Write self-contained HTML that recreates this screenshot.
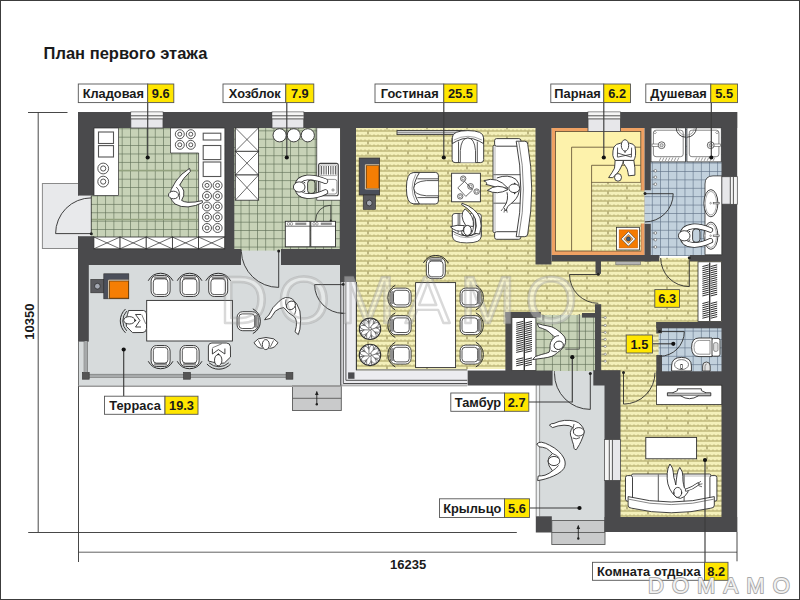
<!DOCTYPE html>
<html><head><meta charset="utf-8"><title>План первого этажа</title>
<style>html,body{margin:0;padding:0;background:#fff}body{width:800px;height:600px;overflow:hidden}
svg{display:block;font-family:"Liberation Sans",sans-serif;font-weight:bold}</style></head>
<body><svg width="800" height="600" viewBox="0 0 800 600">
<defs>
<pattern id="gt" x="121.7" y="128.3" width="8.27" height="8.4" patternUnits="userSpaceOnUse">
<rect width="8.27" height="8.4" fill="#c7d2b7"/><path d="M0 .4H8.27M.4 0V8.4" stroke="#5d6b53" stroke-width=".65" fill="none"/></pattern>
<pattern id="gt2" x="257.0" y="130.4" width="8.25" height="8.3" patternUnits="userSpaceOnUse">
<rect width="8.25" height="8.3" fill="#c7d2b7"/><path d="M0 .4H8.25M.4 0V8.3" stroke="#5d6b53" stroke-width=".65" fill="none"/></pattern>
<pattern id="gt3" x="535.4" y="314.1" width="8.25" height="8.3" patternUnits="userSpaceOnUse">
<rect width="8.25" height="8.3" fill="#c7d2b7"/><path d="M0 .4H8.25M.4 0V8.3" stroke="#5d6b53" stroke-width=".65" fill="none"/></pattern>
<pattern id="bt" x="660" y="162.6" width="8.17" height="8.4" patternUnits="userSpaceOnUse">
<rect width="8.17" height="8.4" fill="#c2d1dd"/><path d="M0 .4H8.17M.4 0V8.4" stroke="#5f7186" stroke-width=".65" fill="none"/></pattern>
<pattern id="wd" x="356" y="128" width="40" height="10" patternUnits="userSpaceOnUse">
<rect width="40" height="10" fill="#f4f0ba"/>
<path d="M0 3H40M0 8H40" stroke="#a69e5c" stroke-width="1.05" fill="none"/>
<path d="M0 2.1H40M1 7.1H40" stroke="#bbb478" stroke-width="0.8" stroke-dasharray="2 2" fill="none"/>
<path d="M12 3.6V6.6M31 8.6V10M31 0V1.6" stroke="#8f8750" stroke-width="1.1" fill="none"/></pattern>
</defs>
<rect x="0" y="0" width="800" height="600" fill="#fff"/>
<rect x="42.40" y="183.50" width="36.10" height="65.00" fill="#e8e9eb" stroke="#8a8a8a" stroke-width="1" />
<rect x="77.50" y="195.60" width="13.80" height="40.60" fill="#e8e9eb" />
<rect x="91.00" y="128.00" width="134.00" height="121.00" fill="url(#gt)" />
<line x1="91.30" y1="170.50" x2="198.60" y2="170.50" stroke="#93a27f" stroke-width="1.3" />
<line x1="91.30" y1="219.50" x2="198.60" y2="219.50" stroke="#93a27f" stroke-width="1.3" />
<rect x="234.00" y="128.00" width="106.00" height="123.00" fill="url(#gt2)" />
<rect x="78.00" y="265.00" width="263.50" height="121.30" fill="#d7dbdc" />
<rect x="241.00" y="250.60" width="40.00" height="15.40" fill="#d7dbdc" />
<rect x="292.50" y="386.00" width="48.80" height="24.50" fill="#c9cacb" stroke="#5a5a5a" stroke-width="0.9" />
<line x1="292.50" y1="398.30" x2="341.30" y2="398.30" stroke="#5a5a5a" stroke-width="0.9" />
<rect x="356.00" y="128.00" width="180.00" height="241.00" fill="url(#wd)" />
<rect x="536.00" y="261.00" width="186.00" height="110.00" fill="url(#wd)" />
<rect x="601.00" y="300.00" width="56.00" height="86.00" fill="url(#wd)" />
<rect x="620.00" y="371.00" width="102.00" height="146.50" fill="url(#wd)" />
<rect x="551.50" y="128.00" width="93.00" height="127.00" fill="#efa163" />
<rect x="555.50" y="131.50" width="85.30" height="119.50" fill="#fdf2ab" stroke="#5a4a30" stroke-width="0.8" />
<rect x="591.50" y="182.50" width="49.30" height="68.50" fill="url(#wd)" />
<rect x="640.00" y="190.50" width="4.60" height="33.00" fill="url(#wd)" />
<rect x="650.50" y="128.00" width="71.50" height="128.00" fill="url(#bt)" />
<rect x="661.00" y="328.00" width="61.00" height="44.00" fill="url(#bt)" />
<rect x="535.50" y="315.00" width="60.00" height="56.00" fill="url(#gt3)" />
<rect x="536.00" y="371.00" width="69.00" height="149.50" fill="#d7dbdc" />
<rect x="536.00" y="385.00" width="3.60" height="131.50" fill="#eceeef" />
<line x1="536.20" y1="385.00" x2="536.20" y2="516.50" stroke="#808080" stroke-width="0.9" />
<line x1="539.60" y1="385.00" x2="539.60" y2="516.50" stroke="#808080" stroke-width="0.8" />
<rect x="551.80" y="520.50" width="53.20" height="24.00" fill="#c9cacb" stroke="#5a5a5a" stroke-width="0.9" />
<line x1="551.80" y1="532.50" x2="605.00" y2="532.50" stroke="#5a5a5a" stroke-width="0.9" />
<rect x="78.00" y="112.00" width="659.20" height="16.00" fill="#4a4a4c" />
<rect x="78.00" y="112.00" width="16.00" height="83.60" fill="#4a4a4c" />
<rect x="78.00" y="236.20" width="16.00" height="28.80" fill="#4a4a4c" />
<rect x="78.00" y="249.00" width="163.00" height="16.00" fill="#4a4a4c" />
<rect x="281.00" y="249.00" width="75.00" height="16.00" fill="#4a4a4c" />
<rect x="78.00" y="265.00" width="10.80" height="76.60" fill="#4a4a4c" />
<rect x="225.00" y="128.00" width="9.30" height="121.00" fill="#4a4a4c" />
<rect x="340.00" y="128.00" width="16.00" height="154.00" fill="#4a4a4c" />
<rect x="535.50" y="128.00" width="16.00" height="136.50" fill="#4a4a4c" />
<rect x="551.50" y="255.00" width="108.00" height="6.40" fill="#4a4a4c" />
<rect x="644.50" y="128.00" width="6.30" height="62.50" fill="#4a4a4c" />
<rect x="644.50" y="223.50" width="6.30" height="37.90" fill="#4a4a4c" />
<rect x="690.00" y="255.00" width="32.00" height="6.40" fill="#4a4a4c" />
<rect x="721.50" y="112.00" width="15.70" height="420.00" fill="#4a4a4c" />
<rect x="595.50" y="261.00" width="5.50" height="12.80" fill="#4a4a4c" />
<rect x="595.00" y="304.20" width="6.20" height="66.80" fill="#4a4a4c" />
<rect x="505.40" y="312.00" width="35.40" height="5.60" fill="#4a4a4c" />
<rect x="582.00" y="313.00" width="19.00" height="4.60" fill="#4a4a4c" />
<rect x="505.40" y="312.00" width="6.50" height="59.00" fill="#4a4a4c" />
<rect x="467.50" y="370.50" width="85.10" height="15.00" fill="#4a4a4c" />
<rect x="593.30" y="370.20" width="27.20" height="15.30" fill="#4a4a4c" />
<rect x="604.50" y="384.00" width="16.00" height="55.80" fill="#4a4a4c" />
<rect x="604.50" y="480.20" width="16.00" height="51.80" fill="#4a4a4c" />
<rect x="604.50" y="517.00" width="132.70" height="15.00" fill="#4a4a4c" />
<rect x="656.30" y="322.00" width="65.70" height="6.30" fill="#4a4a4c" />
<rect x="656.30" y="322.00" width="5.70" height="11.50" fill="#4a4a4c" />
<rect x="656.30" y="355.00" width="5.70" height="30.00" fill="#4a4a4c" />
<rect x="656.30" y="371.30" width="65.70" height="13.70" fill="#4a4a4c" />
<rect x="535.80" y="516.30" width="16.00" height="16.20" fill="#4a4a4c" />
<rect x="130.80" y="112.00" width="32.20" height="16.00" fill="#e7e7ea" stroke="#444" stroke-width="0.8" />
<rect x="131.20" y="112.40" width="31.40" height="6.40" fill="#f5f5f5" />
<line x1="130.80" y1="115.80" x2="163.00" y2="115.80" stroke="#444" stroke-width="0.9" />
<line x1="130.80" y1="118.90" x2="163.00" y2="118.90" stroke="#444" stroke-width="0.9" />
<rect x="272.00" y="112.00" width="31.80" height="16.00" fill="#e7e7ea" stroke="#444" stroke-width="0.8" />
<rect x="272.40" y="112.40" width="31.00" height="6.40" fill="#f5f5f5" />
<line x1="272.00" y1="115.80" x2="303.80" y2="115.80" stroke="#444" stroke-width="0.9" />
<line x1="272.00" y1="118.90" x2="303.80" y2="118.90" stroke="#444" stroke-width="0.9" />
<rect x="588.00" y="112.00" width="32.50" height="19.50" fill="#e7e7ea" stroke="#444" stroke-width="0.8" />
<rect x="588.40" y="112.40" width="31.70" height="6.40" fill="#f5f5f5" />
<line x1="588.00" y1="115.80" x2="620.50" y2="115.80" stroke="#444" stroke-width="0.9" />
<line x1="588.00" y1="118.90" x2="620.50" y2="118.90" stroke="#444" stroke-width="0.9" />
<rect x="721.50" y="176.70" width="15.70" height="27.50" fill="#e7e7ea" stroke="#444" stroke-width="0.8" />
<rect x="730.40" y="177.10" width="6.40" height="26.70" fill="#f5f5f5" />
<line x1="733.40" y1="176.70" x2="733.40" y2="204.20" stroke="#444" stroke-width="0.9" />
<line x1="730.30" y1="176.70" x2="730.30" y2="204.20" stroke="#444" stroke-width="0.9" />
<rect x="604.50" y="439.60" width="16.00" height="40.80" fill="#e7e7ea" stroke="#444" stroke-width="0.8" />
<rect x="604.90" y="440.00" width="7.40" height="40.00" fill="#f5f5f5" />
<line x1="609.30" y1="439.60" x2="609.30" y2="480.40" stroke="#444" stroke-width="0.9" />
<line x1="612.40" y1="439.60" x2="612.40" y2="480.40" stroke="#444" stroke-width="0.9" />
<rect x="340.60" y="282.00" width="15.80" height="104.00" fill="#ececf0" />
<rect x="340.60" y="370.30" width="126.70" height="15.70" fill="#ececf0" />
<rect x="340.60" y="384.50" width="126.70" height="1.90" fill="#b2b2b2" />
<line x1="340.80" y1="282.00" x2="340.80" y2="386.40" stroke="#333" stroke-width="1.0" />
<line x1="343.30" y1="282.00" x2="343.30" y2="383.50" stroke="#3c3c3c" stroke-width="0.85" />
<line x1="345.90" y1="282.00" x2="345.90" y2="380.30" stroke="#3c3c3c" stroke-width="0.85" />
<line x1="356.40" y1="282.00" x2="356.40" y2="370.20" stroke="#333" stroke-width="1.1" />
<line x1="340.80" y1="313.30" x2="345.90" y2="313.30" stroke="#3c3c3c" stroke-width="0.8" />
<line x1="345.90" y1="380.30" x2="467.30" y2="380.30" stroke="#3c3c3c" stroke-width="0.9" />
<line x1="343.30" y1="383.50" x2="467.30" y2="383.50" stroke="#3c3c3c" stroke-width="0.9" />
<line x1="356.40" y1="369.90" x2="467.30" y2="369.90" stroke="#4a4a3a" stroke-width="0.9" />
<rect x="348.10" y="372.40" width="6.40" height="6.40" fill="#4c4c50" />
<line x1="89.00" y1="374.40" x2="286.00" y2="374.40" stroke="#6a6a6a" stroke-width="0.8" />
<line x1="89.00" y1="377.30" x2="286.00" y2="377.30" stroke="#6a6a6a" stroke-width="0.8" />
<rect x="89.00" y="374.80" width="197.00" height="2.10" fill="#a6a9aa" />
<line x1="84.20" y1="341.00" x2="84.20" y2="372.00" stroke="#6a6a6a" stroke-width="0.8" />
<line x1="87.40" y1="341.00" x2="87.40" y2="372.00" stroke="#6a6a6a" stroke-width="0.8" />
<rect x="84.60" y="341.00" width="2.40" height="31.00" fill="#a6a9aa" />
<line x1="78.50" y1="341.00" x2="78.50" y2="386.00" stroke="#666" stroke-width="0.9" />
<line x1="78.00" y1="386.20" x2="341.50" y2="386.20" stroke="#9b9b9b" stroke-width="1.5" />
<rect x="82.40" y="372.40" width="6.80" height="6.80" fill="#555" stroke="#333" stroke-width="0.6" />
<rect x="183.60" y="372.40" width="6.80" height="6.80" fill="#555" stroke="#333" stroke-width="0.6" />
<rect x="286.10" y="372.40" width="6.80" height="6.80" fill="#555" stroke="#333" stroke-width="0.6" />
<g opacity="0.36" font-size="67" font-weight="normal" letter-spacing="9.8"><text x="219.5" y="323" fill="#fff" stroke="#fff" stroke-width="0.9">DOMAMO</text></g>
<rect x="94.00" y="128.00" width="24.60" height="67.60" fill="#fff" stroke="#2c2c2c" stroke-width="0.7" />
<rect x="98.50" y="132.00" width="15.00" height="11.50" fill="#fff" stroke="#555" stroke-width="1.1" />
<rect x="98.50" y="145.60" width="15.00" height="11.40" fill="#fff" stroke="#555" stroke-width="1.1" />
<circle cx="103.20" cy="168.50" r="5.40" fill="#fff" stroke="#2c2c2c" stroke-width="0.8"/>
<circle cx="103.20" cy="168.50" r="2.60" fill="#fff" stroke="#2c2c2c" stroke-width="0.8"/>
<circle cx="103.20" cy="181.60" r="5.40" fill="#fff" stroke="#2c2c2c" stroke-width="0.8"/>
<circle cx="103.20" cy="181.60" r="2.60" fill="#fff" stroke="#2c2c2c" stroke-width="0.8"/>
<path d="M170.5 128 H224.8 V237 H198.6 V153 H170.5 Z" fill="#fff" stroke="#2c2c2c" stroke-width="0.7" />
<circle cx="179.80" cy="134.20" r="4.50" fill="#fff" stroke="#2c2c2c" stroke-width="0.8"/>
<circle cx="179.80" cy="134.20" r="2.00" fill="#fff" stroke="#2c2c2c" stroke-width="0.8"/>
<circle cx="179.80" cy="144.80" r="4.50" fill="#fff" stroke="#2c2c2c" stroke-width="0.8"/>
<circle cx="179.80" cy="144.80" r="2.00" fill="#fff" stroke="#2c2c2c" stroke-width="0.8"/>
<circle cx="190.80" cy="134.20" r="4.50" fill="#fff" stroke="#2c2c2c" stroke-width="0.8"/>
<circle cx="190.80" cy="134.20" r="2.00" fill="#fff" stroke="#2c2c2c" stroke-width="0.8"/>
<circle cx="190.80" cy="144.80" r="4.50" fill="#fff" stroke="#2c2c2c" stroke-width="0.8"/>
<circle cx="190.80" cy="144.80" r="2.00" fill="#fff" stroke="#2c2c2c" stroke-width="0.8"/>
<rect x="203.20" y="133.20" width="17.60" height="6.80" fill="#fff" stroke="#555" stroke-width="1.1" />
<rect x="203.20" y="145.50" width="17.60" height="14.10" fill="#fff" stroke="#555" stroke-width="1.1" />
<rect x="203.20" y="162.00" width="17.60" height="14.50" fill="#fff" stroke="#555" stroke-width="1.1" />
<circle cx="207.00" cy="185.40" r="4.50" fill="#fff" stroke="#2c2c2c" stroke-width="0.8"/>
<circle cx="207.00" cy="185.40" r="2.00" fill="#fff" stroke="#2c2c2c" stroke-width="0.8"/>
<circle cx="207.00" cy="196.00" r="4.50" fill="#fff" stroke="#2c2c2c" stroke-width="0.8"/>
<circle cx="207.00" cy="196.00" r="2.00" fill="#fff" stroke="#2c2c2c" stroke-width="0.8"/>
<circle cx="207.00" cy="206.50" r="4.50" fill="#fff" stroke="#2c2c2c" stroke-width="0.8"/>
<circle cx="207.00" cy="206.50" r="2.00" fill="#fff" stroke="#2c2c2c" stroke-width="0.8"/>
<circle cx="207.00" cy="217.20" r="4.50" fill="#fff" stroke="#2c2c2c" stroke-width="0.8"/>
<circle cx="207.00" cy="217.20" r="2.00" fill="#fff" stroke="#2c2c2c" stroke-width="0.8"/>
<circle cx="207.00" cy="228.00" r="4.50" fill="#fff" stroke="#2c2c2c" stroke-width="0.8"/>
<circle cx="207.00" cy="228.00" r="2.00" fill="#fff" stroke="#2c2c2c" stroke-width="0.8"/>
<circle cx="217.60" cy="185.40" r="4.50" fill="#fff" stroke="#2c2c2c" stroke-width="0.8"/>
<circle cx="217.60" cy="185.40" r="2.00" fill="#fff" stroke="#2c2c2c" stroke-width="0.8"/>
<circle cx="217.60" cy="196.00" r="4.50" fill="#fff" stroke="#2c2c2c" stroke-width="0.8"/>
<circle cx="217.60" cy="196.00" r="2.00" fill="#fff" stroke="#2c2c2c" stroke-width="0.8"/>
<circle cx="217.60" cy="206.50" r="4.50" fill="#fff" stroke="#2c2c2c" stroke-width="0.8"/>
<circle cx="217.60" cy="206.50" r="2.00" fill="#fff" stroke="#2c2c2c" stroke-width="0.8"/>
<circle cx="217.60" cy="217.20" r="4.50" fill="#fff" stroke="#2c2c2c" stroke-width="0.8"/>
<circle cx="217.60" cy="217.20" r="2.00" fill="#fff" stroke="#2c2c2c" stroke-width="0.8"/>
<circle cx="217.60" cy="228.00" r="4.50" fill="#fff" stroke="#2c2c2c" stroke-width="0.8"/>
<circle cx="217.60" cy="228.00" r="2.00" fill="#fff" stroke="#2c2c2c" stroke-width="0.8"/>
<rect x="93.90" y="237.00" width="26.16" height="11.80" fill="#fff" stroke="#2c2c2c" stroke-width="0.8" />
<line x1="93.90" y1="237.00" x2="120.06" y2="248.80" stroke="#2c2c2c" stroke-width="0.7" />
<line x1="93.90" y1="248.80" x2="120.06" y2="237.00" stroke="#2c2c2c" stroke-width="0.7" />
<rect x="120.06" y="237.00" width="26.16" height="11.80" fill="#fff" stroke="#2c2c2c" stroke-width="0.8" />
<line x1="120.06" y1="237.00" x2="146.22" y2="248.80" stroke="#2c2c2c" stroke-width="0.7" />
<line x1="120.06" y1="248.80" x2="146.22" y2="237.00" stroke="#2c2c2c" stroke-width="0.7" />
<rect x="146.22" y="237.00" width="26.16" height="11.80" fill="#fff" stroke="#2c2c2c" stroke-width="0.8" />
<line x1="146.22" y1="237.00" x2="172.38" y2="248.80" stroke="#2c2c2c" stroke-width="0.7" />
<line x1="146.22" y1="248.80" x2="172.38" y2="237.00" stroke="#2c2c2c" stroke-width="0.7" />
<rect x="172.38" y="237.00" width="26.16" height="11.80" fill="#fff" stroke="#2c2c2c" stroke-width="0.8" />
<line x1="172.38" y1="237.00" x2="198.54" y2="248.80" stroke="#2c2c2c" stroke-width="0.7" />
<line x1="172.38" y1="248.80" x2="198.54" y2="237.00" stroke="#2c2c2c" stroke-width="0.7" />
<rect x="198.54" y="237.00" width="26.16" height="11.80" fill="#fff" stroke="#2c2c2c" stroke-width="0.8" />
<line x1="198.54" y1="237.00" x2="224.70" y2="248.80" stroke="#2c2c2c" stroke-width="0.7" />
<line x1="198.54" y1="248.80" x2="224.70" y2="237.00" stroke="#2c2c2c" stroke-width="0.7" />
<path d="M91.3 233.6 H55.6 A35.7 35.7 0 0 1 91.3 197.9" fill="none" stroke="#2c2c2c" stroke-width="0.9" />
<line x1="91.30" y1="196.00" x2="91.30" y2="235.00" stroke="#2c2c2c" stroke-width="0.8" />
<circle cx="91.30" cy="233.80" r="1.50" fill="#222"/>
<path d="M189.6 168.4 Q181 173.5 176 181 Q174.6 183.4 173.8 184.8 Q170.4 189 170.2 195 Q170.5 200.4 175 204 Q181 207.4 188 206.9 Q196 206.2 202.6 202.6 L202.2 200.6 Q195 202.6 188 202.3 Q184 202 181.6 200.4 Q184.6 196 183.8 191 Q182.6 187 179.6 185.2 Q182.6 178.6 190.4 171.4 Z" fill="#fff" stroke="#2c2c2c" stroke-width="0.9" stroke-linejoin="round"/>
<path d="M176.2 187 Q180.6 190.6 179.4 199.6" fill="none" stroke="#2c2c2c" stroke-width="0.8" />
<ellipse cx="173.5" cy="195" rx="5" ry="3.8" fill="#fff" stroke="#2c2c2c" stroke-width="0.9"/>
<rect x="235.30" y="127.80" width="23.30" height="23.50" fill="#fff" stroke="#2c2c2c" stroke-width="0.8" />
<line x1="235.30" y1="127.80" x2="258.60" y2="151.30" stroke="#2c2c2c" stroke-width="0.7" />
<line x1="235.30" y1="151.30" x2="258.60" y2="127.80" stroke="#2c2c2c" stroke-width="0.7" />
<rect x="235.30" y="151.30" width="23.30" height="23.70" fill="#fff" stroke="#2c2c2c" stroke-width="0.8" />
<line x1="235.30" y1="151.30" x2="258.60" y2="175.00" stroke="#2c2c2c" stroke-width="0.7" />
<line x1="235.30" y1="175.00" x2="258.60" y2="151.30" stroke="#2c2c2c" stroke-width="0.7" />
<rect x="235.30" y="175.00" width="23.30" height="25.20" fill="#fff" stroke="#2c2c2c" stroke-width="0.8" />
<line x1="235.30" y1="175.00" x2="258.60" y2="200.20" stroke="#2c2c2c" stroke-width="0.7" />
<line x1="235.30" y1="200.20" x2="258.60" y2="175.00" stroke="#2c2c2c" stroke-width="0.7" />
<circle cx="279.60" cy="135.30" r="6.60" fill="#fff" stroke="#2c2c2c" stroke-width="0.9"/>
<circle cx="293.80" cy="135.30" r="6.60" fill="#fff" stroke="#2c2c2c" stroke-width="0.9"/>
<circle cx="307.80" cy="135.30" r="6.60" fill="#fff" stroke="#2c2c2c" stroke-width="0.9"/>
<rect x="316.80" y="127.80" width="23.70" height="72.40" fill="#fff" stroke="#2c2c2c" stroke-width="0.7" />
<rect x="318.6" y="163.4" width="19.7" height="32.3" rx="2" fill="#fff" stroke="#444" stroke-width="1.1"/>
<rect x="320" y="165" width="16.9" height="10.6" rx="1" fill="#fff" stroke="#777" stroke-width="0.6"/>
<line x1="321.60" y1="166.00" x2="321.60" y2="174.60" stroke="#444" stroke-width="0.9" />
<line x1="323.90" y1="166.00" x2="323.90" y2="174.60" stroke="#444" stroke-width="0.9" />
<line x1="326.20" y1="166.00" x2="326.20" y2="174.60" stroke="#444" stroke-width="0.9" />
<line x1="328.50" y1="166.00" x2="328.50" y2="174.60" stroke="#444" stroke-width="0.9" />
<line x1="330.80" y1="166.00" x2="330.80" y2="174.60" stroke="#444" stroke-width="0.9" />
<line x1="333.10" y1="166.00" x2="333.10" y2="174.60" stroke="#444" stroke-width="0.9" />
<line x1="335.40" y1="166.00" x2="335.40" y2="174.60" stroke="#444" stroke-width="0.9" />
<rect x="320" y="179.4" width="16.9" height="14.6" rx="2.2" fill="#fff" stroke="#666" stroke-width="0.7"/>
<circle cx="333.00" cy="190.00" r="1.10" fill="#fff" stroke="#444" stroke-width="0.6"/>
<rect x="285.30" y="221.30" width="24.70" height="25.50" fill="#fff" stroke="#2c2c2c" stroke-width="0.9" />
<line x1="285.30" y1="226.20" x2="310.00" y2="226.20" stroke="#2c2c2c" stroke-width="0.7" />
<rect x="295.30" y="222.60" width="11.00" height="2.30" fill="#8a8a8a" />
<ellipse cx="288.5" cy="223.8" rx="1.2" ry="1.4" fill="none" stroke="#444" stroke-width="0.5"/>
<ellipse cx="291.5" cy="223.8" rx="1.2" ry="1.4" fill="none" stroke="#444" stroke-width="0.5"/>
<rect x="310.80" y="221.30" width="24.70" height="25.50" fill="#fff" stroke="#2c2c2c" stroke-width="0.9" />
<line x1="310.80" y1="226.20" x2="335.50" y2="226.20" stroke="#2c2c2c" stroke-width="0.7" />
<rect x="320.80" y="222.60" width="11.00" height="2.30" fill="#8a8a8a" />
<ellipse cx="314.0" cy="223.8" rx="1.2" ry="1.4" fill="none" stroke="#444" stroke-width="0.5"/>
<ellipse cx="317.0" cy="223.8" rx="1.2" ry="1.4" fill="none" stroke="#444" stroke-width="0.5"/>
<path d="M330.8 220.6 V205.2 A15.3 15.3 0 0 0 315.5 220.6" fill="none" stroke="#2c2c2c" stroke-width="0.8" />
<circle cx="330.80" cy="220.60" r="1.10" fill="#222"/>
<path d="M278.7 251.2 V287.4 A37.4 37.4 0 0 1 241.3 251.2" fill="none" stroke="#2c2c2c" stroke-width="0.9" />
<circle cx="278.70" cy="251.00" r="1.50" fill="#222"/>
<line x1="241.30" y1="251.00" x2="241.30" y2="249.50" stroke="#2c2c2c" stroke-width="0.8" />
<g transform="translate(307.20 186.80) rotate(0)">
<ellipse cx="-3.6" cy="0" rx="7.2" ry="10" fill="#fff" stroke="#2c2c2c" stroke-width="0.9"/>
<path d="M18.2 -5.6 Q8 -10 0 -9.2 Q-9.6 -8.2 -10 0 Q-9.6 8.4 0 9.2 Q8 10 18.2 5.2" fill="none" stroke="#2c2c2c" stroke-width="5.5" stroke-linecap="round" stroke-linejoin="round"/>
<path d="M18.2 -5.6 Q8 -10 0 -9.2 Q-9.6 -8.2 -10 0 Q-9.6 8.4 0 9.2 Q8 10 18.2 5.2" fill="none" stroke="#fff" stroke-width="4.0" stroke-linecap="round" stroke-linejoin="round"/>
<rect x="0.4" y="-6.6" width="7.4" height="13.2" rx="3" fill="#c7d2b7" stroke="#2c2c2c" stroke-width="0.9"/>
<ellipse cx="-8" cy="0.2" rx="5.8" ry="5.1" fill="#fff" stroke="#2c2c2c" stroke-width="0.9"/>
<path d="M-3.6 -4.6 L-2 -3.8 M-3.6 5 L-2 4.2" fill="none" stroke="#222" stroke-width="1.0" />
</g>
<rect x="90.80" y="279.40" width="13.00" height="13.40" fill="#5a5a5e" stroke="#2c2c2c" stroke-width="0.6" />
<circle cx="97.40" cy="286.20" r="2.90" fill="#a4a8b2" stroke="#2a2a2a" stroke-width="0.8"/>
<rect x="103.80" y="273.80" width="25.00" height="25.00" fill="#4b4f5a" stroke="#2c2c2c" stroke-width="0.6" />
<rect x="109.40" y="281.00" width="19.00" height="17.20" fill="#f57e04" stroke="#6a3c08" stroke-width="0.8" />
<path d="M108.6 298.4 V280.2 H128.6" fill="none" stroke="#f0d6b0" stroke-width="0.9" />
<rect x="146.70" y="300.40" width="85.70" height="40.60" fill="#fff" stroke="#2c2c2c" stroke-width="0.9" />
<g transform="translate(160.60 286.00) rotate(0)">
<path d="M-12.20 -5.60 A14 14 0 0 1 12.20 -5.60" fill="none" stroke="#2c2c2c" stroke-width="1.0" stroke-linecap="round"/>
<rect x="-9.50" y="-10.50" width="19.00" height="21.00" rx="5.6" fill="#fff" stroke="#2c2c2c" stroke-width="0.9"/>
<rect x="-6.50" y="-9.60" width="13.00" height="2.8" rx="1.2" fill="#8f8f8f"/>
<rect x="-7.30" y="-7.10" width="14.60" height="15.70" rx="3.2" fill="#fff" stroke="#2c2c2c" stroke-width="0.8"/>
</g>
<g transform="translate(189.60 286.00) rotate(0)">
<path d="M-12.20 -5.60 A14 14 0 0 1 12.20 -5.60" fill="none" stroke="#2c2c2c" stroke-width="1.0" stroke-linecap="round"/>
<rect x="-9.50" y="-10.50" width="19.00" height="21.00" rx="5.6" fill="#fff" stroke="#2c2c2c" stroke-width="0.9"/>
<rect x="-6.50" y="-9.60" width="13.00" height="2.8" rx="1.2" fill="#8f8f8f"/>
<rect x="-7.30" y="-7.10" width="14.60" height="15.70" rx="3.2" fill="#fff" stroke="#2c2c2c" stroke-width="0.8"/>
</g>
<g transform="translate(218.20 286.00) rotate(0)">
<path d="M-12.20 -5.60 A14 14 0 0 1 12.20 -5.60" fill="none" stroke="#2c2c2c" stroke-width="1.0" stroke-linecap="round"/>
<rect x="-9.50" y="-10.50" width="19.00" height="21.00" rx="5.6" fill="#fff" stroke="#2c2c2c" stroke-width="0.9"/>
<rect x="-6.50" y="-9.60" width="13.00" height="2.8" rx="1.2" fill="#8f8f8f"/>
<rect x="-7.30" y="-7.10" width="14.60" height="15.70" rx="3.2" fill="#fff" stroke="#2c2c2c" stroke-width="0.8"/>
</g>
<g transform="translate(160.60 356.00) rotate(180)">
<path d="M-12.20 -5.60 A14 14 0 0 1 12.20 -5.60" fill="none" stroke="#2c2c2c" stroke-width="1.0" stroke-linecap="round"/>
<rect x="-9.50" y="-10.50" width="19.00" height="21.00" rx="5.6" fill="#fff" stroke="#2c2c2c" stroke-width="0.9"/>
<rect x="-6.50" y="-9.60" width="13.00" height="2.8" rx="1.2" fill="#8f8f8f"/>
<rect x="-7.30" y="-7.10" width="14.60" height="15.70" rx="3.2" fill="#fff" stroke="#2c2c2c" stroke-width="0.8"/>
</g>
<g transform="translate(189.60 356.00) rotate(180)">
<path d="M-12.20 -5.60 A14 14 0 0 1 12.20 -5.60" fill="none" stroke="#2c2c2c" stroke-width="1.0" stroke-linecap="round"/>
<rect x="-9.50" y="-10.50" width="19.00" height="21.00" rx="5.6" fill="#fff" stroke="#2c2c2c" stroke-width="0.9"/>
<rect x="-6.50" y="-9.60" width="13.00" height="2.8" rx="1.2" fill="#8f8f8f"/>
<rect x="-7.30" y="-7.10" width="14.60" height="15.70" rx="3.2" fill="#fff" stroke="#2c2c2c" stroke-width="0.8"/>
</g>
<g transform="translate(247.60 321.20) rotate(90)">
<path d="M-12.20 -5.60 A14 14 0 0 1 12.20 -5.60" fill="none" stroke="#2c2c2c" stroke-width="1.0" stroke-linecap="round"/>
<rect x="-9.50" y="-10.50" width="19.00" height="21.00" rx="5.6" fill="#fff" stroke="#2c2c2c" stroke-width="0.9"/>
<rect x="-6.50" y="-9.60" width="13.00" height="2.8" rx="1.2" fill="#8f8f8f"/>
<rect x="-7.30" y="-7.10" width="14.60" height="15.70" rx="3.2" fill="#fff" stroke="#2c2c2c" stroke-width="0.8"/>
</g>
<g transform="translate(136.30 321.30) rotate(0)">
<path d="M-10.8 -12.3 A16.2 16.2 0 0 0 -10.8 11.5" fill="none" stroke="#2c2c2c" stroke-width="1.0" />
<path d="M-9.6 -10.2 A14.5 14.5 0 0 0 -9.6 9.6" fill="none" stroke="#2c2c2c" stroke-width="0.9" />
<path d="M-7.8 -10.8 H7.2 Q10.2 -10.5 10.2 -7.3 V7.2 Q10.2 10.8 6.7 11.2 L-3.8 11.3 L-9.8 5.2 Q-11.3 -1.3 -8.8 -6.8 Z" fill="#fff" stroke="#2c2c2c" stroke-width="0.9" />
<path d="M4.7 -6.8 H-0.8 L3.6 -0.8 L-0.8 5.7 H4.7" fill="none" stroke="#2c2c2c" stroke-width="0.9" />
<line x1="5.40" y1="-6.80" x2="9.40" y2="2.50" stroke="#2c2c2c" stroke-width="0.6" />
<ellipse cx="-7" cy="-1" rx="5.6" ry="3.7" fill="#fff" stroke="#2c2c2c" stroke-width="0.9"/>
<path d="M-1.8 -2.2 L0.2 -0.8 L-1.8 0.6 Z" fill="#222" stroke="none" stroke-width="0" />
</g>
<g transform="translate(219.20 353.20) rotate(-90)">
<path d="M-10.8 -12.3 A16.2 16.2 0 0 0 -10.8 11.5" fill="none" stroke="#2c2c2c" stroke-width="1.0" />
<path d="M-9.6 -10.2 A14.5 14.5 0 0 0 -9.6 9.6" fill="none" stroke="#2c2c2c" stroke-width="0.9" />
<path d="M-7.8 -10.8 H7.2 Q10.2 -10.5 10.2 -7.3 V7.2 Q10.2 10.8 6.7 11.2 L-3.8 11.3 L-9.8 5.2 Q-11.3 -1.3 -8.8 -6.8 Z" fill="#fff" stroke="#2c2c2c" stroke-width="0.9" />
<path d="M4.7 -6.8 H-0.8 L3.6 -0.8 L-0.8 5.7 H4.7" fill="none" stroke="#2c2c2c" stroke-width="0.9" />
<line x1="5.40" y1="-6.80" x2="9.40" y2="2.50" stroke="#2c2c2c" stroke-width="0.6" />
<ellipse cx="-7" cy="-1" rx="5.6" ry="3.7" fill="#fff" stroke="#2c2c2c" stroke-width="0.9"/>
<path d="M-1.8 -2.2 L0.2 -0.8 L-1.8 0.6 Z" fill="#222" stroke="none" stroke-width="0" />
</g>
<path d="M264.6 319.8 Q266.6 316.4 268.6 315.4 Q272 307 279.2 301.2 Q282 298.4 285.6 297.5 Q289.4 297.2 292.4 299 Q297.4 303 299.9 311 Q301.5 320 299.9 329.3 L298.3 334.6 L295 331.8 Q296.8 326 296.5 322.3 Q296.1 318.6 294.2 316.6 Q288.4 313.6 283.8 307.6 Q280 307.6 275.3 311.2 Q272.2 316 270.4 318.4 Z" fill="#fff" stroke="#2c2c2c" stroke-width="0.9" stroke-linejoin="round"/>
<path d="M286 299.4 Q284.6 303.8 287 307.4 M295.4 306.2 Q296.6 310.4 294.6 314.6" fill="none" stroke="#2c2c2c" stroke-width="0.8" />
<ellipse cx="290.9" cy="305.4" rx="4.8" ry="4" fill="#fff" stroke="#2c2c2c" stroke-width="0.9" transform="rotate(-38 290.9 305.4)"/>
<path d="M254 342.6 Q258 337.4 263 338 Q266 337 269 338 Q274 337.4 278 342.6 Q274.6 348.6 269.6 348.2 L262.4 348.2 Q257.4 348.6 254 342.6 Z" fill="#fff" stroke="#2c2c2c" stroke-width="0.9" />
<path d="M258.4 340.4 L261.6 346.8 M273.6 340.4 L270.4 346.8" fill="none" stroke="#2c2c2c" stroke-width="0.7" />
<ellipse cx="265.8" cy="344.6" rx="3.5" ry="5" fill="#fff" stroke="#2c2c2c" stroke-width="0.9"/>
<path d="M343.3 284.6 H314.6 A28.7 28.7 0 0 0 343.3 313.3" fill="none" stroke="#2c2c2c" stroke-width="0.9" />
<circle cx="343.30" cy="284.40" r="1.40" fill="#222"/>
<rect x="359.20" y="158.00" width="20.40" height="37.00" fill="#4b4f5a" stroke="#3a352c" stroke-width="0.8" />
<rect x="366.20" y="165.60" width="12.80" height="22.80" fill="#f57e04" stroke="#6a3c08" stroke-width="0.8" />
<path d="M379.2 189 H365.4 V164.8 H379.2" fill="none" stroke="#f0d6b0" stroke-width="0.9" />
<rect x="363.20" y="195.00" width="12.40" height="14.40" fill="#5a5a5e" stroke="#2c2c2c" stroke-width="0.6" />
<circle cx="369.30" cy="203.00" r="2.90" fill="#a4a8b2" stroke="#2a2a2a" stroke-width="0.8"/>
<rect x="397.00" y="130.60" width="68.00" height="4.00" fill="#d4d4d4" stroke="#333" stroke-width="0.9" />
<line x1="397.00" y1="132.60" x2="465.00" y2="132.60" stroke="#666" stroke-width="0.6" />
<g transform="translate(467.90 146.60) rotate(0) scale(1.0)">
<rect x="-15.8" y="-11" width="31.6" height="27" rx="3" fill="#fff" stroke="#2c2c2c" stroke-width="0.9"/>
<path d="M-15.6 -3 V-9 Q-15.6 -16 0 -16 Q15.6 -16 15.6 -9 V-3 L11.4 -5.4 Q0 -11.4 -11.4 -5.4 Z" fill="#fff" stroke="#2c2c2c" stroke-width="0.9" />
<path d="M-14 -6.6 Q0 -14 14 -6.6" fill="none" stroke="#666" stroke-width="0.6" />
<line x1="-9.40" y1="-5.00" x2="-9.40" y2="15.80" stroke="#2c2c2c" stroke-width="0.8" />
<line x1="9.40" y1="-5.00" x2="9.40" y2="15.80" stroke="#2c2c2c" stroke-width="0.8" />
<path d="M-7.6 15.8 V4 Q-6.6 -8.6 0 -8.6 Q6.6 -8.6 7.6 4 V15.8" fill="#fff" stroke="#2c2c2c" stroke-width="0.8" />
</g>
<g transform="translate(422.40 188.20) rotate(-90) scale(1.0)">
<rect x="-15.8" y="-11" width="31.6" height="27" rx="3" fill="#fff" stroke="#2c2c2c" stroke-width="0.9"/>
<path d="M-15.6 -3 V-9 Q-15.6 -16 0 -16 Q15.6 -16 15.6 -9 V-3 L11.4 -5.4 Q0 -11.4 -11.4 -5.4 Z" fill="#fff" stroke="#2c2c2c" stroke-width="0.9" />
<path d="M-14 -6.6 Q0 -14 14 -6.6" fill="none" stroke="#666" stroke-width="0.6" />
<line x1="-9.40" y1="-5.00" x2="-9.40" y2="15.80" stroke="#2c2c2c" stroke-width="0.8" />
<line x1="9.40" y1="-5.00" x2="9.40" y2="15.80" stroke="#2c2c2c" stroke-width="0.8" />
<path d="M-7.6 15.8 V4 Q-6.6 -8.6 0 -8.6 Q6.6 -8.6 7.6 4 V15.8" fill="#fff" stroke="#2c2c2c" stroke-width="0.8" />
</g>
<g transform="translate(466.80 228.20) rotate(180) scale(0.92)">
<rect x="-15.8" y="-11" width="31.6" height="27" rx="3" fill="#fff" stroke="#2c2c2c" stroke-width="0.9"/>
<path d="M-15.6 -3 V-9 Q-15.6 -16 0 -16 Q15.6 -16 15.6 -9 V-3 L11.4 -5.4 Q0 -11.4 -11.4 -5.4 Z" fill="#fff" stroke="#2c2c2c" stroke-width="0.9" />
<path d="M-14 -6.6 Q0 -14 14 -6.6" fill="none" stroke="#666" stroke-width="0.6" />
<line x1="-9.40" y1="-5.00" x2="-9.40" y2="15.80" stroke="#2c2c2c" stroke-width="0.8" />
<line x1="9.40" y1="-5.00" x2="9.40" y2="15.80" stroke="#2c2c2c" stroke-width="0.8" />
<path d="M-7.6 15.8 V4 Q-6.6 -8.6 0 -8.6 Q6.6 -8.6 7.6 4 V15.8" fill="#fff" stroke="#2c2c2c" stroke-width="0.8" />
</g>
<rect x="451.60" y="173.20" width="28.80" height="28.60" fill="#fff" stroke="#2c2c2c" stroke-width="0.9" />
<circle cx="463.20" cy="178.60" r="2.70" fill="#fff" stroke="#2c2c2c" stroke-width="0.7"/>
<circle cx="463.20" cy="178.60" r="1.35" fill="#fff" stroke="#2c2c2c" stroke-width="0.5"/>
<circle cx="470.60" cy="186.40" r="2.90" fill="#fff" stroke="#2c2c2c" stroke-width="0.7"/>
<circle cx="470.60" cy="186.40" r="1.45" fill="#fff" stroke="#2c2c2c" stroke-width="0.5"/>
<circle cx="476.60" cy="191.60" r="2.70" fill="#fff" stroke="#2c2c2c" stroke-width="0.7"/>
<circle cx="476.60" cy="191.60" r="1.35" fill="#fff" stroke="#2c2c2c" stroke-width="0.5"/>
<circle cx="460.20" cy="196.40" r="2.70" fill="#fff" stroke="#2c2c2c" stroke-width="0.7"/>
<circle cx="460.20" cy="196.40" r="1.35" fill="#fff" stroke="#2c2c2c" stroke-width="0.5"/>
<path d="M457.8 187.8 L464.6 181.4 L472.6 190 L465.8 196.4 Z" fill="none" stroke="#2c2c2c" stroke-width="0.7" />
<g transform="translate(493.00 188.95) rotate(-90)">
<rect x="-43.75" y="0" width="87.50" height="28.80" rx="1.5" fill="#fff" stroke="#2c2c2c" stroke-width="0.9"/>
<line x1="-14.25" y1="0.50" x2="-14.25" y2="27.80" stroke="#2c2c2c" stroke-width="0.8" />
<line x1="14.25" y1="0.50" x2="14.25" y2="27.80" stroke="#2c2c2c" stroke-width="0.8" />
<line x1="-42.75" y1="2.00" x2="42.75" y2="2.00" stroke="#888" stroke-width="0.6" />
<rect x="-50.35" y="1.6" width="7.60" height="26.20" rx="2" fill="#fff" stroke="#2c2c2c" stroke-width="0.9"/>
<rect x="42.75" y="1.6" width="7.60" height="26.20" rx="2" fill="#fff" stroke="#2c2c2c" stroke-width="0.9"/>
<path d="M-47.75 23.20 Q0 32.40 47.75 23.20 V31.80 Q47.75 34.80 44.25 34.80 Q0 42.62 -44.25 34.80 Q-47.75 34.80 -47.75 31.80 Z" fill="#fff" stroke="#2c2c2c" stroke-width="0.9" />
<path d="M-47.15 25.80 Q0 35.00 47.15 25.80" fill="none" stroke="#555" stroke-width="0.7" />
</g>
<path d="M496.8 178 Q508 173.6 516 179.4 Q519.6 183 519.4 188.4 Q519.2 196 514 201 Q510 204.6 507.6 206.6 L506 211 L503.6 207.4 Q507 203.6 507.4 199 Q507.8 195 507 192.2" fill="#fff" stroke="#2c2c2c" stroke-width="0.9" stroke-linejoin="round"/>
<path d="M508 188.2 Q497 175.6 483.8 180.8 Q488 182.6 486 184.4 Q496 188 508 188.2 Z" fill="#fff" stroke="#2c2c2c" stroke-width="0.9" stroke-linejoin="round"/>
<path d="M508 189.6 Q498 182.6 487.4 190.4 Q497 195.4 508 189.6 Z" fill="#fff" stroke="#2c2c2c" stroke-width="0.9" stroke-linejoin="round"/>
<path d="M503 208.4 l-2 2.6 M504.6 209.6 l-0.6 3 M506.6 209.8 l0.6 2.8" fill="none" stroke="#2c2c2c" stroke-width="0.7" />
<ellipse cx="514.2" cy="188.3" rx="5.4" ry="4.3" fill="#fff" stroke="#2c2c2c" stroke-width="0.9"/>
<path d="M514.4 182.4 l1.6 1.6 l-2.4 0.4 Z M514.4 194.4 l1.6 -1.6 l-2.4 -0.4 Z" fill="#222" stroke="none" stroke-width="0" />
<path d="M479.6 234 Q482.6 226 480 218 Q476 208 462 203.2 L461.6 204.6 Q472 210.6 475.4 219 Q477.6 226 474.6 233.4 Z" fill="#fff" stroke="#2c2c2c" stroke-width="0.9" stroke-linejoin="round"/>
<path d="M466 226 Q458.6 215 465 208.8 Q474.6 216 473.4 226.4 Z" fill="#fff" stroke="#2c2c2c" stroke-width="0.9" stroke-linejoin="round"/>
<path d="M464.4 225.6 Q457 224.4 450.4 226.8 Q456 232.6 463 230.6 Z" fill="#fff" stroke="#2c2c2c" stroke-width="0.9" stroke-linejoin="round"/>
<path d="M461 233.6 Q467.6 238.6 474.6 233.4" fill="none" stroke="#2c2c2c" stroke-width="0.9" />
<ellipse cx="467.5" cy="230.4" rx="3.8" ry="5" fill="#fff" stroke="#2c2c2c" stroke-width="0.9"/>
<path d="M462.2 231 l1.6 -1 l0 2 Z M472.8 231 l-1.6 -1 l0 2 Z" fill="#222" stroke="none" stroke-width="0" />
<rect x="415.60" y="282.60" width="40.00" height="85.00" fill="#fff" stroke="#2c2c2c" stroke-width="0.9" />
<g transform="translate(435.80 268.20) rotate(0)">
<path d="M-12.20 -5.60 A14 14 0 0 1 12.20 -5.60" fill="none" stroke="#2c2c2c" stroke-width="1.0" stroke-linecap="round"/>
<rect x="-9.50" y="-10.50" width="19.00" height="21.00" rx="5.6" fill="#fff" stroke="#2c2c2c" stroke-width="0.9"/>
<rect x="-6.50" y="-9.60" width="13.00" height="2.8" rx="1.2" fill="#8f8f8f"/>
<rect x="-7.30" y="-7.10" width="14.60" height="15.70" rx="3.2" fill="#fff" stroke="#2c2c2c" stroke-width="0.8"/>
</g>
<g transform="translate(400.60 297.60) rotate(-90)">
<path d="M-12.20 -5.60 A14 14 0 0 1 12.20 -5.60" fill="none" stroke="#2c2c2c" stroke-width="1.0" stroke-linecap="round"/>
<rect x="-9.50" y="-10.50" width="19.00" height="21.00" rx="5.6" fill="#fff" stroke="#2c2c2c" stroke-width="0.9"/>
<rect x="-6.50" y="-9.60" width="13.00" height="2.8" rx="1.2" fill="#8f8f8f"/>
<rect x="-7.30" y="-7.10" width="14.60" height="15.70" rx="3.2" fill="#fff" stroke="#2c2c2c" stroke-width="0.8"/>
</g>
<g transform="translate(470.60 297.60) rotate(90)">
<path d="M-12.20 -5.60 A14 14 0 0 1 12.20 -5.60" fill="none" stroke="#2c2c2c" stroke-width="1.0" stroke-linecap="round"/>
<rect x="-9.50" y="-10.50" width="19.00" height="21.00" rx="5.6" fill="#fff" stroke="#2c2c2c" stroke-width="0.9"/>
<rect x="-6.50" y="-9.60" width="13.00" height="2.8" rx="1.2" fill="#8f8f8f"/>
<rect x="-7.30" y="-7.10" width="14.60" height="15.70" rx="3.2" fill="#fff" stroke="#2c2c2c" stroke-width="0.8"/>
</g>
<g transform="translate(400.60 325.20) rotate(-90)">
<path d="M-12.20 -5.60 A14 14 0 0 1 12.20 -5.60" fill="none" stroke="#2c2c2c" stroke-width="1.0" stroke-linecap="round"/>
<rect x="-9.50" y="-10.50" width="19.00" height="21.00" rx="5.6" fill="#fff" stroke="#2c2c2c" stroke-width="0.9"/>
<rect x="-6.50" y="-9.60" width="13.00" height="2.8" rx="1.2" fill="#8f8f8f"/>
<rect x="-7.30" y="-7.10" width="14.60" height="15.70" rx="3.2" fill="#fff" stroke="#2c2c2c" stroke-width="0.8"/>
</g>
<g transform="translate(470.60 325.20) rotate(90)">
<path d="M-12.20 -5.60 A14 14 0 0 1 12.20 -5.60" fill="none" stroke="#2c2c2c" stroke-width="1.0" stroke-linecap="round"/>
<rect x="-9.50" y="-10.50" width="19.00" height="21.00" rx="5.6" fill="#fff" stroke="#2c2c2c" stroke-width="0.9"/>
<rect x="-6.50" y="-9.60" width="13.00" height="2.8" rx="1.2" fill="#8f8f8f"/>
<rect x="-7.30" y="-7.10" width="14.60" height="15.70" rx="3.2" fill="#fff" stroke="#2c2c2c" stroke-width="0.8"/>
</g>
<g transform="translate(400.60 354.60) rotate(-90)">
<path d="M-12.20 -5.60 A14 14 0 0 1 12.20 -5.60" fill="none" stroke="#2c2c2c" stroke-width="1.0" stroke-linecap="round"/>
<rect x="-9.50" y="-10.50" width="19.00" height="21.00" rx="5.6" fill="#fff" stroke="#2c2c2c" stroke-width="0.9"/>
<rect x="-6.50" y="-9.60" width="13.00" height="2.8" rx="1.2" fill="#8f8f8f"/>
<rect x="-7.30" y="-7.10" width="14.60" height="15.70" rx="3.2" fill="#fff" stroke="#2c2c2c" stroke-width="0.8"/>
</g>
<g transform="translate(470.60 354.60) rotate(90)">
<path d="M-12.20 -5.60 A14 14 0 0 1 12.20 -5.60" fill="none" stroke="#2c2c2c" stroke-width="1.0" stroke-linecap="round"/>
<rect x="-9.50" y="-10.50" width="19.00" height="21.00" rx="5.6" fill="#fff" stroke="#2c2c2c" stroke-width="0.9"/>
<rect x="-6.50" y="-9.60" width="13.00" height="2.8" rx="1.2" fill="#8f8f8f"/>
<rect x="-7.30" y="-7.10" width="14.60" height="15.70" rx="3.2" fill="#fff" stroke="#2c2c2c" stroke-width="0.8"/>
</g>
<circle cx="370.00" cy="328.80" r="10.70" fill="#fff" stroke="#2e2e2e" stroke-width="1.1"/>
<line x1="371.47" y1="329.10" x2="379.96" y2="330.82" stroke="#3a3a3a" stroke-width="0.8" />
<line x1="371.24" y1="329.64" x2="378.43" y2="334.48" stroke="#3a3a3a" stroke-width="0.8" />
<line x1="370.83" y1="330.05" x2="375.62" y2="337.27" stroke="#3a3a3a" stroke-width="0.8" />
<line x1="370.29" y1="330.27" x2="371.95" y2="338.78" stroke="#3a3a3a" stroke-width="0.8" />
<line x1="369.70" y1="330.27" x2="367.98" y2="338.76" stroke="#3a3a3a" stroke-width="0.8" />
<line x1="369.16" y1="330.04" x2="364.32" y2="337.23" stroke="#3a3a3a" stroke-width="0.8" />
<line x1="368.75" y1="329.63" x2="361.53" y2="334.42" stroke="#3a3a3a" stroke-width="0.8" />
<line x1="368.53" y1="329.09" x2="360.02" y2="330.75" stroke="#3a3a3a" stroke-width="0.8" />
<line x1="368.53" y1="328.50" x2="360.04" y2="326.78" stroke="#3a3a3a" stroke-width="0.8" />
<line x1="368.76" y1="327.96" x2="361.57" y2="323.12" stroke="#3a3a3a" stroke-width="0.8" />
<line x1="369.17" y1="327.55" x2="364.38" y2="320.33" stroke="#3a3a3a" stroke-width="0.8" />
<line x1="369.71" y1="327.33" x2="368.05" y2="318.82" stroke="#3a3a3a" stroke-width="0.8" />
<line x1="370.30" y1="327.33" x2="372.02" y2="318.84" stroke="#3a3a3a" stroke-width="0.8" />
<line x1="370.84" y1="327.56" x2="375.68" y2="320.37" stroke="#3a3a3a" stroke-width="0.8" />
<line x1="371.25" y1="327.97" x2="378.47" y2="323.18" stroke="#3a3a3a" stroke-width="0.8" />
<line x1="371.47" y1="328.51" x2="379.98" y2="326.85" stroke="#3a3a3a" stroke-width="0.8" />
<ellipse cx="375.56" cy="328.80" rx="4.49" ry="2.14" fill="#fff" stroke="#3a3a3a" stroke-width="0.6" transform="rotate(12 370.00 328.80)"/>
<ellipse cx="375.56" cy="328.80" rx="4.49" ry="2.14" fill="#fff" stroke="#3a3a3a" stroke-width="0.6" transform="rotate(57 370.00 328.80)"/>
<ellipse cx="375.56" cy="328.80" rx="4.49" ry="2.14" fill="#fff" stroke="#3a3a3a" stroke-width="0.6" transform="rotate(102 370.00 328.80)"/>
<ellipse cx="375.56" cy="328.80" rx="4.49" ry="2.14" fill="#fff" stroke="#3a3a3a" stroke-width="0.6" transform="rotate(147 370.00 328.80)"/>
<ellipse cx="375.56" cy="328.80" rx="4.49" ry="2.14" fill="#fff" stroke="#3a3a3a" stroke-width="0.6" transform="rotate(192 370.00 328.80)"/>
<ellipse cx="375.56" cy="328.80" rx="4.49" ry="2.14" fill="#fff" stroke="#3a3a3a" stroke-width="0.6" transform="rotate(237 370.00 328.80)"/>
<ellipse cx="375.56" cy="328.80" rx="4.49" ry="2.14" fill="#fff" stroke="#3a3a3a" stroke-width="0.6" transform="rotate(282 370.00 328.80)"/>
<ellipse cx="375.56" cy="328.80" rx="4.49" ry="2.14" fill="#fff" stroke="#3a3a3a" stroke-width="0.6" transform="rotate(327 370.00 328.80)"/>
<circle cx="370.00" cy="354.90" r="10.70" fill="#fff" stroke="#2e2e2e" stroke-width="1.1"/>
<line x1="371.47" y1="355.20" x2="379.96" y2="356.92" stroke="#3a3a3a" stroke-width="0.8" />
<line x1="371.24" y1="355.74" x2="378.43" y2="360.58" stroke="#3a3a3a" stroke-width="0.8" />
<line x1="370.83" y1="356.15" x2="375.62" y2="363.37" stroke="#3a3a3a" stroke-width="0.8" />
<line x1="370.29" y1="356.37" x2="371.95" y2="364.88" stroke="#3a3a3a" stroke-width="0.8" />
<line x1="369.70" y1="356.37" x2="367.98" y2="364.86" stroke="#3a3a3a" stroke-width="0.8" />
<line x1="369.16" y1="356.14" x2="364.32" y2="363.33" stroke="#3a3a3a" stroke-width="0.8" />
<line x1="368.75" y1="355.73" x2="361.53" y2="360.52" stroke="#3a3a3a" stroke-width="0.8" />
<line x1="368.53" y1="355.19" x2="360.02" y2="356.85" stroke="#3a3a3a" stroke-width="0.8" />
<line x1="368.53" y1="354.60" x2="360.04" y2="352.88" stroke="#3a3a3a" stroke-width="0.8" />
<line x1="368.76" y1="354.06" x2="361.57" y2="349.22" stroke="#3a3a3a" stroke-width="0.8" />
<line x1="369.17" y1="353.65" x2="364.38" y2="346.43" stroke="#3a3a3a" stroke-width="0.8" />
<line x1="369.71" y1="353.43" x2="368.05" y2="344.92" stroke="#3a3a3a" stroke-width="0.8" />
<line x1="370.30" y1="353.43" x2="372.02" y2="344.94" stroke="#3a3a3a" stroke-width="0.8" />
<line x1="370.84" y1="353.66" x2="375.68" y2="346.47" stroke="#3a3a3a" stroke-width="0.8" />
<line x1="371.25" y1="354.07" x2="378.47" y2="349.28" stroke="#3a3a3a" stroke-width="0.8" />
<line x1="371.47" y1="354.61" x2="379.98" y2="352.95" stroke="#3a3a3a" stroke-width="0.8" />
<ellipse cx="375.56" cy="354.90" rx="4.49" ry="2.14" fill="#fff" stroke="#3a3a3a" stroke-width="0.6" transform="rotate(12 370.00 354.90)"/>
<ellipse cx="375.56" cy="354.90" rx="4.49" ry="2.14" fill="#fff" stroke="#3a3a3a" stroke-width="0.6" transform="rotate(57 370.00 354.90)"/>
<ellipse cx="375.56" cy="354.90" rx="4.49" ry="2.14" fill="#fff" stroke="#3a3a3a" stroke-width="0.6" transform="rotate(102 370.00 354.90)"/>
<ellipse cx="375.56" cy="354.90" rx="4.49" ry="2.14" fill="#fff" stroke="#3a3a3a" stroke-width="0.6" transform="rotate(147 370.00 354.90)"/>
<ellipse cx="375.56" cy="354.90" rx="4.49" ry="2.14" fill="#fff" stroke="#3a3a3a" stroke-width="0.6" transform="rotate(192 370.00 354.90)"/>
<ellipse cx="375.56" cy="354.90" rx="4.49" ry="2.14" fill="#fff" stroke="#3a3a3a" stroke-width="0.6" transform="rotate(237 370.00 354.90)"/>
<ellipse cx="375.56" cy="354.90" rx="4.49" ry="2.14" fill="#fff" stroke="#3a3a3a" stroke-width="0.6" transform="rotate(282 370.00 354.90)"/>
<ellipse cx="375.56" cy="354.90" rx="4.49" ry="2.14" fill="#fff" stroke="#3a3a3a" stroke-width="0.6" transform="rotate(327 370.00 354.90)"/>
<line x1="571.60" y1="147.20" x2="571.60" y2="251.00" stroke="#5a4a30" stroke-width="0.8" />
<line x1="571.60" y1="147.20" x2="640.80" y2="147.20" stroke="#5a4a30" stroke-width="0.8" />
<line x1="591.60" y1="165.30" x2="591.60" y2="251.00" stroke="#5a4a30" stroke-width="0.8" />
<line x1="591.60" y1="165.30" x2="640.80" y2="165.30" stroke="#5a4a30" stroke-width="0.8" />
<line x1="591.60" y1="182.40" x2="640.80" y2="182.40" stroke="#5a4a30" stroke-width="0.7" />
<rect x="616.60" y="227.30" width="22.80" height="22.70" fill="#fff" stroke="#2c2c2c" stroke-width="0.8" />
<rect x="619.20" y="229.90" width="18.40" height="18.00" fill="#f57a00" stroke="#c85e00" stroke-width="0.6" />
<path d="M628.4 231.6 L635.6 238.9 L628.4 246.2 L621.2 238.9 Z" fill="#fff" stroke="#444" stroke-width="0.7" />
<path d="M628.4 234.2 L633 238.9 L628.4 243.6 L623.8 238.9 Z" fill="#f5a040" stroke="#444" stroke-width="0.5" />
<circle cx="628.40" cy="238.90" r="2.10" fill="#3a5a78" stroke="#223" stroke-width="0.5"/>
<path d="M615.1 160.2 L623.6 160.2 Q622.8 164 622.1 164.8 Q620.6 168 619.2 170.6 Q616.6 174.6 612.8 177.6 L608.6 177.6 Q612.4 172.4 614.5 168.2 Q615 164 615.1 160.2 Z" fill="#fff" stroke="#2c2c2c" stroke-width="0.9" stroke-linejoin="round"/>
<path d="M623.4 160.2 L633.8 160.2 Q635.4 168 634.9 175.2 L628.5 175.8 Q628 172 627.3 169.4 Q625.6 166 623.4 163.4 Z" fill="#fff" stroke="#2c2c2c" stroke-width="0.9" stroke-linejoin="round"/>
<path d="M613.9 147 Q616 143.6 620.5 143.2 L629.6 143.2 Q633.6 143.6 634.9 146.4 Q636 151 635.5 155.3 Q635 158.6 633.8 160.4 L615.1 160.4 Q613.2 158 612.8 155.3 Q612.6 150.6 613.9 147 Z" fill="#fff" stroke="#2c2c2c" stroke-width="0.9" stroke-linejoin="round"/>
<path d="M617.4 153 L631.4 157.2 M617.4 157.2 L631.4 154.2 M617.6 147.6 L617.4 157 M631.6 147.6 L631.4 157" fill="none" stroke="#2c2c2c" stroke-width="0.8" />
<ellipse cx="625" cy="145.4" rx="3.7" ry="5.7" fill="#fff" stroke="#2c2c2c" stroke-width="0.9"/>
<path d="M623.8 151.4 L625 153 L626.2 151.4 Z" fill="#222" stroke="none" stroke-width="0" />
<ellipse cx="618" cy="177.4" rx="3.5" ry="3.8" fill="#fff" stroke="#2c2c2c" stroke-width="0.9"/>
<rect x="644.50" y="190.50" width="6.30" height="33.00" fill="url(#bt)" />
<path d="M645 193.7 H673.2 A28.2 28.2 0 0 1 645 221.9" fill="none" stroke="#2c2c2c" stroke-width="0.9" />
<circle cx="645.00" cy="193.50" r="1.50" fill="#222"/>
<rect x="651.00" y="127.80" width="34.60" height="34.10" fill="#fff" stroke="#2c2c2c" stroke-width="0.8" />
<rect x="653.40" y="130.20" width="29.80" height="26.50" rx="2.6" fill="#fff" stroke="#666" stroke-width="0.8"/>
<path d="M676.20 127.80 A9.4 9.4 0 0 0 685.60 137.20" fill="none" stroke="#2c2c2c" stroke-width="0.9" />
<path d="M678.20 127.80 A7.4 7.4 0 0 0 685.60 135.20" fill="none" stroke="#777" stroke-width="0.6" />
<rect x="652.00" y="144.00" width="9.60" height="2.40" fill="#fff" stroke="#555" stroke-width="0.6" />
<circle cx="661.60" cy="145.20" r="3.40" fill="#fff" stroke="#555" stroke-width="0.9"/>
<circle cx="661.60" cy="145.20" r="1.60" fill="#ddd" stroke="#555" stroke-width="0.6"/>
<line x1="659.30" y1="160.90" x2="660.90" y2="157.50" stroke="#555" stroke-width="0.6" />
<line x1="662.30" y1="160.90" x2="663.90" y2="157.50" stroke="#555" stroke-width="0.6" />
<line x1="665.30" y1="160.90" x2="666.90" y2="157.50" stroke="#555" stroke-width="0.6" />
<line x1="668.30" y1="160.90" x2="669.90" y2="157.50" stroke="#555" stroke-width="0.6" />
<line x1="671.30" y1="160.90" x2="672.90" y2="157.50" stroke="#555" stroke-width="0.6" />
<line x1="674.30" y1="160.90" x2="675.90" y2="157.50" stroke="#555" stroke-width="0.6" />
<line x1="677.30" y1="160.90" x2="678.90" y2="157.50" stroke="#555" stroke-width="0.6" />
<rect x="686.90" y="127.80" width="34.40" height="34.10" fill="#fff" stroke="#2c2c2c" stroke-width="0.8" />
<rect x="689.30" y="130.20" width="29.60" height="26.50" rx="2.6" fill="#fff" stroke="#666" stroke-width="0.8"/>
<path d="M696.30 127.80 A9.4 9.4 0 0 1 686.90 137.20" fill="none" stroke="#2c2c2c" stroke-width="0.9" />
<path d="M694.30 127.80 A7.4 7.4 0 0 1 686.90 135.20" fill="none" stroke="#777" stroke-width="0.6" />
<rect x="710.70" y="144.00" width="9.60" height="2.40" fill="#fff" stroke="#555" stroke-width="0.6" />
<circle cx="710.70" cy="145.20" r="3.40" fill="#fff" stroke="#555" stroke-width="0.9"/>
<circle cx="710.70" cy="145.20" r="1.60" fill="#ddd" stroke="#555" stroke-width="0.6"/>
<line x1="695.10" y1="160.90" x2="696.70" y2="157.50" stroke="#555" stroke-width="0.6" />
<line x1="698.10" y1="160.90" x2="699.70" y2="157.50" stroke="#555" stroke-width="0.6" />
<line x1="701.10" y1="160.90" x2="702.70" y2="157.50" stroke="#555" stroke-width="0.6" />
<line x1="704.10" y1="160.90" x2="705.70" y2="157.50" stroke="#555" stroke-width="0.6" />
<line x1="707.10" y1="160.90" x2="708.70" y2="157.50" stroke="#555" stroke-width="0.6" />
<line x1="710.10" y1="160.90" x2="711.70" y2="157.50" stroke="#555" stroke-width="0.6" />
<line x1="713.10" y1="160.90" x2="714.70" y2="157.50" stroke="#555" stroke-width="0.6" />
<path d="M653.6 132.6 l1.4 -1.4 l1.4 1.4 l-1.4 1.4 z" fill="none" stroke="#555" stroke-width="0.5" />
<path d="M715.6 132.6 l1.4 -1.4 l1.4 1.4 l-1.4 1.4 z" fill="none" stroke="#555" stroke-width="0.5" />
<path d="M721.8 175.9 H713 Q705 175.9 705 184 V254.8 H721.8 Z" fill="#fff" stroke="#2c2c2c" stroke-width="0.8" />
<ellipse cx="710.9" cy="203.2" rx="7" ry="13.6" fill="#fff" stroke="#2c2c2c" stroke-width="0.9"/>
<ellipse cx="710.9" cy="203.2" rx="5.6" ry="11.8" fill="none" stroke="#777" stroke-width="0.6"/>
<rect x="713.20" y="202.50" width="6.00" height="1.40" fill="#fff" stroke="#444" stroke-width="0.6" />
<circle cx="710.60" cy="203.20" r="0.80" fill="#fff" stroke="#555" stroke-width="0.5"/>
<ellipse cx="710.9" cy="235.7" rx="7" ry="13.6" fill="#fff" stroke="#2c2c2c" stroke-width="0.9"/>
<ellipse cx="710.9" cy="235.7" rx="5.6" ry="11.8" fill="none" stroke="#777" stroke-width="0.6"/>
<rect x="713.20" y="235.00" width="6.00" height="1.40" fill="#fff" stroke="#444" stroke-width="0.6" />
<circle cx="710.60" cy="235.70" r="0.80" fill="#fff" stroke="#555" stroke-width="0.5"/>
<circle cx="655.40" cy="170.80" r="1.30" fill="#fff" stroke="#555" stroke-width="0.6"/>
<line x1="652.40" y1="170.80" x2="654.10" y2="170.80" stroke="#555" stroke-width="0.6" />
<circle cx="655.40" cy="177.20" r="1.30" fill="#fff" stroke="#555" stroke-width="0.6"/>
<line x1="652.40" y1="177.20" x2="654.10" y2="177.20" stroke="#555" stroke-width="0.6" />
<circle cx="655.40" cy="184.20" r="1.30" fill="#fff" stroke="#555" stroke-width="0.6"/>
<line x1="652.40" y1="184.20" x2="654.10" y2="184.20" stroke="#555" stroke-width="0.6" />
<circle cx="655.40" cy="233.00" r="1.30" fill="#fff" stroke="#555" stroke-width="0.6"/>
<line x1="652.40" y1="233.00" x2="654.10" y2="233.00" stroke="#555" stroke-width="0.6" />
<circle cx="655.40" cy="239.70" r="1.30" fill="#fff" stroke="#555" stroke-width="0.6"/>
<line x1="652.40" y1="239.70" x2="654.10" y2="239.70" stroke="#555" stroke-width="0.6" />
<circle cx="655.40" cy="247.00" r="1.30" fill="#fff" stroke="#555" stroke-width="0.6"/>
<line x1="652.40" y1="247.00" x2="654.10" y2="247.00" stroke="#555" stroke-width="0.6" />
<g transform="translate(692.20 235.60) rotate(0)">
<ellipse cx="-3.6" cy="0" rx="7.2" ry="10" fill="#fff" stroke="#2c2c2c" stroke-width="0.9"/>
<path d="M18.2 -5.6 Q8 -10 0 -9.2 Q-9.6 -8.2 -10 0 Q-9.6 8.4 0 9.2 Q8 10 18.2 5.2" fill="none" stroke="#2c2c2c" stroke-width="5.5" stroke-linecap="round" stroke-linejoin="round"/>
<path d="M18.2 -5.6 Q8 -10 0 -9.2 Q-9.6 -8.2 -10 0 Q-9.6 8.4 0 9.2 Q8 10 18.2 5.2" fill="none" stroke="#fff" stroke-width="4.0" stroke-linecap="round" stroke-linejoin="round"/>
<rect x="0.4" y="-6.6" width="7.4" height="13.2" rx="3" fill="#c2d1dd" stroke="#2c2c2c" stroke-width="0.9"/>
<ellipse cx="-8" cy="0.2" rx="5.8" ry="5.1" fill="#fff" stroke="#2c2c2c" stroke-width="0.9"/>
<path d="M-3.6 -4.6 L-2 -3.8 M-3.6 5 L-2 4.2" fill="none" stroke="#222" stroke-width="1.0" />
</g>
<rect x="659.50" y="257.80" width="30.50" height="4.20" fill="url(#wd)" />
<path d="M689.3 258 V286.6 A28.6 28.6 0 0 1 660.7 258" fill="none" stroke="#2c2c2c" stroke-width="0.9" />
<circle cx="689.30" cy="257.80" r="1.50" fill="#222"/>
<rect x="698.00" y="261.80" width="23.60" height="59.80" fill="#fff" stroke="#2c2c2c" stroke-width="0.8" />
<line x1="709.70" y1="262.40" x2="709.70" y2="321.00" stroke="#333" stroke-width="1.3" />
<line x1="702.40" y1="266.55" x2="708.80" y2="264.87" stroke="#222" stroke-width="0.95" />
<line x1="702.40" y1="268.65" x2="708.80" y2="266.97" stroke="#222" stroke-width="0.95" />
<line x1="702.40" y1="270.75" x2="708.80" y2="269.07" stroke="#222" stroke-width="0.95" />
<line x1="702.40" y1="272.85" x2="708.80" y2="271.17" stroke="#222" stroke-width="0.95" />
<line x1="702.40" y1="274.95" x2="708.80" y2="273.27" stroke="#222" stroke-width="0.95" />
<line x1="702.40" y1="277.05" x2="708.80" y2="275.37" stroke="#222" stroke-width="0.95" />
<line x1="702.40" y1="279.15" x2="708.80" y2="277.47" stroke="#222" stroke-width="0.95" />
<line x1="702.40" y1="281.25" x2="708.80" y2="279.57" stroke="#222" stroke-width="0.95" />
<line x1="702.40" y1="283.35" x2="708.80" y2="281.67" stroke="#222" stroke-width="0.95" />
<line x1="702.40" y1="285.45" x2="708.80" y2="283.77" stroke="#222" stroke-width="0.95" />
<line x1="702.40" y1="287.55" x2="708.80" y2="285.87" stroke="#222" stroke-width="0.95" />
<line x1="702.40" y1="289.65" x2="708.80" y2="287.97" stroke="#222" stroke-width="0.95" />
<line x1="702.40" y1="291.75" x2="708.80" y2="290.07" stroke="#222" stroke-width="0.95" />
<line x1="702.40" y1="293.85" x2="708.80" y2="292.17" stroke="#222" stroke-width="0.95" />
<line x1="702.40" y1="295.95" x2="708.80" y2="294.27" stroke="#222" stroke-width="0.95" />
<line x1="710.60" y1="266.55" x2="717.20" y2="264.87" stroke="#222" stroke-width="0.95" />
<line x1="710.60" y1="268.65" x2="717.20" y2="266.97" stroke="#222" stroke-width="0.95" />
<line x1="710.60" y1="270.75" x2="717.20" y2="269.07" stroke="#222" stroke-width="0.95" />
<line x1="710.60" y1="272.85" x2="717.20" y2="271.17" stroke="#222" stroke-width="0.95" />
<line x1="710.60" y1="274.95" x2="717.20" y2="273.27" stroke="#222" stroke-width="0.95" />
<line x1="710.60" y1="277.05" x2="717.20" y2="275.37" stroke="#222" stroke-width="0.95" />
<line x1="710.60" y1="279.15" x2="717.20" y2="277.47" stroke="#222" stroke-width="0.95" />
<line x1="710.60" y1="281.25" x2="717.20" y2="279.57" stroke="#222" stroke-width="0.95" />
<line x1="710.60" y1="283.35" x2="717.20" y2="281.67" stroke="#222" stroke-width="0.95" />
<line x1="710.60" y1="285.45" x2="717.20" y2="283.77" stroke="#222" stroke-width="0.95" />
<line x1="710.60" y1="287.55" x2="717.20" y2="285.87" stroke="#222" stroke-width="0.95" />
<line x1="710.60" y1="289.65" x2="717.20" y2="287.97" stroke="#222" stroke-width="0.95" />
<line x1="710.60" y1="291.75" x2="717.20" y2="290.07" stroke="#222" stroke-width="0.95" />
<line x1="710.60" y1="293.85" x2="717.20" y2="292.17" stroke="#222" stroke-width="0.95" />
<line x1="710.60" y1="295.95" x2="717.20" y2="294.27" stroke="#222" stroke-width="0.95" />
<line x1="702.40" y1="303.55" x2="708.80" y2="301.87" stroke="#222" stroke-width="0.95" />
<line x1="702.40" y1="305.65" x2="708.80" y2="303.97" stroke="#222" stroke-width="0.95" />
<line x1="702.40" y1="307.75" x2="708.80" y2="306.07" stroke="#222" stroke-width="0.95" />
<line x1="702.40" y1="309.85" x2="708.80" y2="308.17" stroke="#222" stroke-width="0.95" />
<line x1="702.40" y1="311.95" x2="708.80" y2="310.27" stroke="#222" stroke-width="0.95" />
<line x1="702.40" y1="314.05" x2="708.80" y2="312.37" stroke="#222" stroke-width="0.95" />
<line x1="702.40" y1="316.15" x2="708.80" y2="314.47" stroke="#222" stroke-width="0.95" />
<line x1="702.40" y1="318.25" x2="708.80" y2="316.57" stroke="#222" stroke-width="0.95" />
<line x1="710.60" y1="303.55" x2="717.20" y2="301.87" stroke="#222" stroke-width="0.95" />
<line x1="710.60" y1="305.65" x2="717.20" y2="303.97" stroke="#222" stroke-width="0.95" />
<line x1="710.60" y1="307.75" x2="717.20" y2="306.07" stroke="#222" stroke-width="0.95" />
<line x1="710.60" y1="309.85" x2="717.20" y2="308.17" stroke="#222" stroke-width="0.95" />
<line x1="710.60" y1="311.95" x2="717.20" y2="310.27" stroke="#222" stroke-width="0.95" />
<line x1="710.60" y1="314.05" x2="717.20" y2="312.37" stroke="#222" stroke-width="0.95" />
<line x1="710.60" y1="316.15" x2="717.20" y2="314.47" stroke="#222" stroke-width="0.95" />
<line x1="710.60" y1="318.25" x2="717.20" y2="316.57" stroke="#222" stroke-width="0.95" />
<rect x="615.80" y="261.60" width="24.50" height="3.20" fill="#b4b4b4" stroke="#666" stroke-width="0.6" />
<path d="M598.3 274.5 H569.5 A28.8 28.8 0 0 0 598.3 303.3" fill="none" stroke="#2c2c2c" stroke-width="0.9" />
<circle cx="598.30" cy="274.30" r="1.50" fill="#222"/>
<circle cx="605.20" cy="317.60" r="1.10" fill="#fff" stroke="#555" stroke-width="0.5"/>
<line x1="601.40" y1="317.60" x2="604.00" y2="317.60" stroke="#555" stroke-width="0.6" />
<circle cx="605.20" cy="325.40" r="1.10" fill="#fff" stroke="#555" stroke-width="0.5"/>
<line x1="601.40" y1="325.40" x2="604.00" y2="325.40" stroke="#555" stroke-width="0.6" />
<circle cx="605.20" cy="332.40" r="1.10" fill="#fff" stroke="#555" stroke-width="0.5"/>
<line x1="601.40" y1="332.40" x2="604.00" y2="332.40" stroke="#555" stroke-width="0.6" />
<circle cx="605.20" cy="339.40" r="1.10" fill="#fff" stroke="#555" stroke-width="0.5"/>
<line x1="601.40" y1="339.40" x2="604.00" y2="339.40" stroke="#555" stroke-width="0.6" />
<circle cx="605.20" cy="346.40" r="1.10" fill="#fff" stroke="#555" stroke-width="0.5"/>
<line x1="601.40" y1="346.40" x2="604.00" y2="346.40" stroke="#555" stroke-width="0.6" />
<circle cx="605.20" cy="354.20" r="1.10" fill="#fff" stroke="#555" stroke-width="0.5"/>
<line x1="601.40" y1="354.20" x2="604.00" y2="354.20" stroke="#555" stroke-width="0.6" />
<circle cx="605.20" cy="361.20" r="1.10" fill="#fff" stroke="#555" stroke-width="0.5"/>
<line x1="601.40" y1="361.20" x2="604.00" y2="361.20" stroke="#555" stroke-width="0.6" />
<rect x="658.60" y="333.50" width="3.60" height="21.50" fill="url(#bt)" />
<path d="M659.6 331.6 H684.3 A24.7 24.7 0 0 1 659.6 356.3" fill="none" stroke="#2c2c2c" stroke-width="0.9" />
<circle cx="659.60" cy="331.40" r="1.40" fill="#222"/>
<rect x="711.4" y="338.4" width="8.6" height="17.8" rx="2" fill="#fff" stroke="#2c2c2c" stroke-width="0.9"/>
<rect x="713.6" y="342.6" width="4.4" height="8.8" rx="1.6" fill="#ddd" stroke="#555" stroke-width="0.6"/>
<path d="M712 338 H699 Q691.6 338 691.6 347.3 Q691.6 356.6 699 356.6 H712 Z" fill="#fff" stroke="#2c2c2c" stroke-width="0.9" />
<path d="M710 340.4 H699.6 Q694 340.4 694 347.3 Q694 354.2 699.6 354.2 H710 Z" fill="#fff" stroke="#666" stroke-width="0.7" />
<path d="M671.6 371 V366 Q671.6 357.4 681.5 357.4 Q691.4 357.4 691.4 366 V371 Z" fill="#fff" stroke="#2c2c2c" stroke-width="0.9" />
<ellipse cx="681.5" cy="364.6" rx="7" ry="5" fill="#fff" stroke="#555" stroke-width="0.8"/>
<rect x="680.70" y="364.40" width="1.60" height="4.60" fill="#fff" stroke="#444" stroke-width="0.6" />
<path d="M702.6 371 V366 Q702.6 362 706.4 362 Q710.2 362 710.2 366 V371 Z" fill="#e2e2e2" stroke="#2c2c2c" stroke-width="0.8" />
<path d="M705 371 V366.4 Q705 364 706.8 364" fill="none" stroke="#666" stroke-width="0.7" />
<rect x="511.90" y="317.60" width="24.00" height="52.80" fill="#fff" stroke="#2c2c2c" stroke-width="0.8" />
<line x1="524.30" y1="318.00" x2="524.30" y2="370.40" stroke="#333" stroke-width="1.4" />
<line x1="516.20" y1="323.05" x2="523.40" y2="321.37" stroke="#222" stroke-width="0.95" />
<line x1="516.20" y1="325.15" x2="523.40" y2="323.47" stroke="#222" stroke-width="0.95" />
<line x1="516.20" y1="327.25" x2="523.40" y2="325.57" stroke="#222" stroke-width="0.95" />
<line x1="516.20" y1="329.35" x2="523.40" y2="327.67" stroke="#222" stroke-width="0.95" />
<line x1="516.20" y1="331.45" x2="523.40" y2="329.77" stroke="#222" stroke-width="0.95" />
<line x1="516.20" y1="333.55" x2="523.40" y2="331.87" stroke="#222" stroke-width="0.95" />
<line x1="516.20" y1="335.65" x2="523.40" y2="333.97" stroke="#222" stroke-width="0.95" />
<line x1="516.20" y1="337.75" x2="523.40" y2="336.07" stroke="#222" stroke-width="0.95" />
<line x1="516.20" y1="339.85" x2="523.40" y2="338.17" stroke="#222" stroke-width="0.95" />
<line x1="516.20" y1="341.95" x2="523.40" y2="340.27" stroke="#222" stroke-width="0.95" />
<line x1="516.20" y1="344.05" x2="523.40" y2="342.37" stroke="#222" stroke-width="0.95" />
<line x1="516.20" y1="346.15" x2="523.40" y2="344.47" stroke="#222" stroke-width="0.95" />
<line x1="516.20" y1="348.25" x2="523.40" y2="346.57" stroke="#222" stroke-width="0.95" />
<line x1="516.20" y1="350.35" x2="523.40" y2="348.67" stroke="#222" stroke-width="0.95" />
<line x1="516.20" y1="352.45" x2="523.40" y2="350.77" stroke="#222" stroke-width="0.95" />
<line x1="525.20" y1="323.05" x2="532.00" y2="321.37" stroke="#222" stroke-width="0.95" />
<line x1="525.20" y1="325.15" x2="532.00" y2="323.47" stroke="#222" stroke-width="0.95" />
<line x1="525.20" y1="327.25" x2="532.00" y2="325.57" stroke="#222" stroke-width="0.95" />
<line x1="525.20" y1="329.35" x2="532.00" y2="327.67" stroke="#222" stroke-width="0.95" />
<line x1="525.20" y1="331.45" x2="532.00" y2="329.77" stroke="#222" stroke-width="0.95" />
<line x1="525.20" y1="333.55" x2="532.00" y2="331.87" stroke="#222" stroke-width="0.95" />
<line x1="525.20" y1="335.65" x2="532.00" y2="333.97" stroke="#222" stroke-width="0.95" />
<line x1="525.20" y1="337.75" x2="532.00" y2="336.07" stroke="#222" stroke-width="0.95" />
<line x1="525.20" y1="339.85" x2="532.00" y2="338.17" stroke="#222" stroke-width="0.95" />
<line x1="525.20" y1="341.95" x2="532.00" y2="340.27" stroke="#222" stroke-width="0.95" />
<line x1="525.20" y1="344.05" x2="532.00" y2="342.37" stroke="#222" stroke-width="0.95" />
<line x1="525.20" y1="346.15" x2="532.00" y2="344.47" stroke="#222" stroke-width="0.95" />
<line x1="525.20" y1="348.25" x2="532.00" y2="346.57" stroke="#222" stroke-width="0.95" />
<line x1="525.20" y1="350.35" x2="532.00" y2="348.67" stroke="#222" stroke-width="0.95" />
<line x1="525.20" y1="352.45" x2="532.00" y2="350.77" stroke="#222" stroke-width="0.95" />
<line x1="516.20" y1="359.55" x2="523.40" y2="357.87" stroke="#222" stroke-width="0.95" />
<line x1="516.20" y1="361.65" x2="523.40" y2="359.97" stroke="#222" stroke-width="0.95" />
<line x1="516.20" y1="363.75" x2="523.40" y2="362.07" stroke="#222" stroke-width="0.95" />
<line x1="516.20" y1="365.85" x2="523.40" y2="364.17" stroke="#222" stroke-width="0.95" />
<line x1="525.20" y1="359.55" x2="532.00" y2="357.87" stroke="#222" stroke-width="0.95" />
<line x1="525.20" y1="361.65" x2="532.00" y2="359.97" stroke="#222" stroke-width="0.95" />
<line x1="525.20" y1="363.75" x2="532.00" y2="362.07" stroke="#222" stroke-width="0.95" />
<line x1="525.20" y1="365.85" x2="532.00" y2="364.17" stroke="#222" stroke-width="0.95" />
<path d="M543 314.6 V320.6" fill="none" stroke="#444" stroke-width="0.7" />
<path d="M579.3 314 V349.2 H565.3" fill="none" stroke="#444" stroke-width="0.8" />
<path d="M537.2 323.6 Q540 324 542.7 325 Q547 325.6 551.9 326.9 Q556 328.6 559.2 331.5 Q562.4 334 564.7 337 Q566 340 565.6 342.5 Q565 345.6 562.9 348 Q560.6 350.6 557.4 352.6 Q555 355 551.9 356.3 Q548 357.6 543.6 358.1 L532.6 359.6 L535.3 356.6 Q538.6 355.4 541.8 354.4 Q546 353.6 549.1 352.2 Q550 349.6 550 349 Q549.8 345.6 550.5 342.5 Q552 339.4 554.6 337 Q553.6 335.6 551.9 334.7 Q549.4 332 546.3 330.1 Q542.6 328.4 539 327.4 Z" fill="#fff" stroke="#2c2c2c" stroke-width="0.9" stroke-linejoin="round"/>
<path d="M554.6 337 Q557 335.4 559 335.6 M551 350.6 Q554 352.2 556.8 351.6" fill="none" stroke="#2c2c2c" stroke-width="0.8" />
<ellipse cx="558.7" cy="345.3" rx="4.7" ry="4.1" fill="#fff" stroke="#2c2c2c" stroke-width="0.9" transform="rotate(-20 558.7 345.3)"/>
<path d="M590.3 373.6 V409.4 A35.8 35.8 0 0 1 554.5 373.6" fill="none" stroke="#2c2c2c" stroke-width="0.9" />
<circle cx="590.30" cy="373.40" r="1.50" fill="#222"/>
<line x1="554.50" y1="371.00" x2="554.50" y2="374.00" stroke="#444" stroke-width="0.7" />
<path d="M549.4 425.2 Q551 423.2 554 423.4 Q559 421 564.5 420.4 Q570 420 575 421.2 Q579 422.4 581 425 Q584 428 584 431.4 Q584 435 582.4 438 Q581 441.6 579.4 444.6 L576.4 449.6 Q574.6 450 574 448.2 L573.4 444.4 Q572 441 571.6 438 Q570 435 570.4 432.4 Q571 429.4 572.6 427.4 Q570 425 564 425.2 Q558 425.4 552.6 427.6 Z" fill="#fff" stroke="#2c2c2c" stroke-width="0.9" stroke-linejoin="round"/>
<path d="M574 424 Q572 428.6 574 433 M580 437.6 Q576 440 572.8 438" fill="none" stroke="#2c2c2c" stroke-width="0.8" />
<ellipse cx="578.8" cy="431.8" rx="5.4" ry="4.2" fill="#fff" stroke="#2c2c2c" stroke-width="0.9"/>
<path d="M536.8 444 Q538.6 442 541.3 442.2 Q545.4 442.8 549.5 445.2 Q554.6 447.6 558.5 451.2 Q562 454.4 563.8 458 Q565.4 461 565.2 464 Q565 466.6 563.8 468.6 Q561.6 471.8 557.8 473.8 Q554 476 549.5 477.6 Q545.6 479 542 479.8 L537.6 480.6 L538.2 476 Q541.6 476 545 475.2 Q549.4 473.6 552.5 470.8 Q548 466 548 461 Q548 457 552.5 453.5 Q549.6 450.4 546.5 448.4 Q542.6 447 539 446.8 Z" fill="#fff" stroke="#2c2c2c" stroke-width="0.9" stroke-linejoin="round"/>
<path d="M552.5 453.5 Q557 455 559.4 458 M552.5 470.8 Q556 468.8 558.6 465.4" fill="none" stroke="#2c2c2c" stroke-width="0.8" />
<ellipse cx="554" cy="461" rx="5.8" ry="4.6" fill="#fff" stroke="#2c2c2c" stroke-width="0.9"/>
<path d="M623.5 372.6 V404.1 A31.5 31.5 0 0 0 655 372.6" fill="none" stroke="#2c2c2c" stroke-width="0.9" />
<circle cx="623.50" cy="372.40" r="1.50" fill="#222"/>
<rect x="656.60" y="385.20" width="65.20" height="19.20" fill="#fff" stroke="#2c2c2c" stroke-width="0.8" />
<path d="M667.4 392.8 H710.8 V395.8 H667.4 Z" fill="#bdbdbd" stroke="#2c2c2c" stroke-width="0.9" />
<path d="M672.6 392.8 L677.4 390.6 V388.8 H701.4 V390.6 L706 392.8" fill="#fff" stroke="#2c2c2c" stroke-width="0.9" />
<path d="M680.6 395.8 Q689.4 401.6 698.4 395.8" fill="#fff" stroke="#2c2c2c" stroke-width="0.9" />
<rect x="645.80" y="437.40" width="50.80" height="21.40" fill="#fff" stroke="#2c2c2c" stroke-width="0.9" />
<g transform="translate(671.20 474.00) rotate(0)">
<rect x="-39.70" y="0" width="79.40" height="29.00" rx="1.5" fill="#fff" stroke="#2c2c2c" stroke-width="0.9"/>
<line x1="-12.90" y1="0.50" x2="-12.90" y2="28.00" stroke="#2c2c2c" stroke-width="0.8" />
<line x1="12.90" y1="0.50" x2="12.90" y2="28.00" stroke="#2c2c2c" stroke-width="0.8" />
<line x1="-38.70" y1="2.00" x2="38.70" y2="2.00" stroke="#888" stroke-width="0.6" />
<rect x="-45.70" y="1.6" width="7.00" height="25.60" rx="2" fill="#fff" stroke="#2c2c2c" stroke-width="0.9"/>
<rect x="38.70" y="1.6" width="7.00" height="25.60" rx="2" fill="#fff" stroke="#2c2c2c" stroke-width="0.9"/>
<path d="M-43.10 22.60 Q0 33.40 43.10 22.60 V31.20 Q43.10 34.20 39.60 34.20 Q0 43.38 -39.60 34.20 Q-43.10 34.20 -43.10 31.20 Z" fill="#fff" stroke="#2c2c2c" stroke-width="0.9" />
<path d="M-42.50 25.20 Q0 36.00 42.50 25.20" fill="none" stroke="#555" stroke-width="0.7" />
</g>
<path d="M669.9 464 Q667.4 468.6 667.2 473.4 Q666.8 479 667.9 483.9 Q669.4 489.4 672.5 493.4 Q676 498.6 680.4 498.4 Q684.6 498 688.2 491.8 Q686 489.4 684.3 487.8 Q683.4 484 683 481.2 Q683 476 682.3 472 L679.8 467.4 Q677.6 470.6 677.1 474.7 Q676.2 480 675.8 485 Q675 480.6 673.8 477.3 Q673.4 472 672.5 468.1 Z" fill="#fff" stroke="#2c2c2c" stroke-width="0.9" stroke-linejoin="round"/>
<path d="M686.4 490 Q692 488.6 698 484" fill="none" stroke="#2c2c2c" stroke-width="3.1" stroke-linecap="round" stroke-linejoin="round"/>
<path d="M686.4 490 Q692 488.6 698 484" fill="none" stroke="#fff" stroke-width="1.6" stroke-linecap="round" stroke-linejoin="round"/>
<path d="M697.6 483.6 l3.4 -2.4 M698.4 484.6 l4 -0.8 M698.6 485.6 l3.4 1.2" fill="none" stroke="#2c2c2c" stroke-width="0.7" />
<ellipse cx="677.7" cy="492.4" rx="4" ry="5" fill="#fff" stroke="#2c2c2c" stroke-width="0.9"/>
<path d="M672.8 493 l1.6 -1 l0 2 Z M682.6 493 l-1.6 -1 l0 2 Z" fill="#222" stroke="none" stroke-width="0" />
<path d="M147.70 102.00 L147.70 157.50" fill="none" stroke="#3c3c3c" stroke-width="1.15" />
<circle cx="147.70" cy="157.50" r="2.10" fill="#111"/>
<path d="M286.80 102.00 L286.80 157.50" fill="none" stroke="#3c3c3c" stroke-width="1.15" />
<circle cx="286.80" cy="157.50" r="2.10" fill="#111"/>
<path d="M443.80 102.00 L443.80 157.50" fill="none" stroke="#3c3c3c" stroke-width="1.15" />
<circle cx="443.80" cy="157.50" r="2.10" fill="#111"/>
<path d="M603.80 102.00 L603.80 157.50" fill="none" stroke="#3c3c3c" stroke-width="1.15" />
<circle cx="603.80" cy="157.50" r="2.10" fill="#111"/>
<path d="M711.30 102.00 L711.30 157.50" fill="none" stroke="#3c3c3c" stroke-width="1.15" />
<circle cx="711.30" cy="157.50" r="2.10" fill="#111"/>
<path d="M123.70 396.00 L123.70 349.50" fill="none" stroke="#3c3c3c" stroke-width="1.15" />
<circle cx="123.70" cy="349.50" r="2.10" fill="#111"/>
<path d="M528.70 402.00 L572.30 402.00 L572.30 357.20" fill="none" stroke="#3c3c3c" stroke-width="1.15" />
<circle cx="572.30" cy="357.20" r="2.10" fill="#111"/>
<path d="M529.50 508.00 L579.50 508.00" fill="none" stroke="#3c3c3c" stroke-width="1.15" />
<circle cx="579.50" cy="508.00" r="2.10" fill="#111"/>
<path d="M705.00 562.50 L705.00 460.00" fill="none" stroke="#3c3c3c" stroke-width="1.15" />
<circle cx="705.00" cy="460.00" r="2.10" fill="#111"/>
<path d="M652.50 343.80 L673.30 343.80" fill="none" stroke="#3c3c3c" stroke-width="1.15" />
<circle cx="673.30" cy="343.80" r="2.10" fill="#111"/>
<rect x="78.30" y="84.00" width="69.40" height="18.60" fill="#fff" stroke="#555" stroke-width="0.9" />
<rect x="147.70" y="84.00" width="26.10" height="18.60" fill="#ffe600" stroke="#555" stroke-width="0.9" />
<text x="113.30" y="98.10" font-size="12.8" text-anchor="middle" fill="#1a1a1a" >Кладовая</text>
<text x="160.75" y="98.10" font-size="12.8" text-anchor="middle" fill="#1a1a1a" >9.6</text>
<rect x="223.00" y="84.00" width="62.80" height="18.60" fill="#fff" stroke="#555" stroke-width="0.9" />
<rect x="285.80" y="84.00" width="28.00" height="18.60" fill="#ffe600" stroke="#555" stroke-width="0.9" />
<text x="254.70" y="98.10" font-size="12.8" text-anchor="middle" fill="#1a1a1a" >Хозблок</text>
<text x="299.80" y="98.10" font-size="12.8" text-anchor="middle" fill="#1a1a1a" >7.9</text>
<rect x="375.00" y="84.00" width="68.80" height="18.60" fill="#fff" stroke="#555" stroke-width="0.9" />
<rect x="443.80" y="84.00" width="33.20" height="18.60" fill="#ffe600" stroke="#555" stroke-width="0.9" />
<text x="409.70" y="98.10" font-size="12.8" text-anchor="middle" fill="#1a1a1a" >Гостиная</text>
<text x="460.40" y="98.10" font-size="12.8" text-anchor="middle" fill="#1a1a1a" >25.5</text>
<rect x="550.80" y="84.00" width="53.00" height="18.60" fill="#fff" stroke="#555" stroke-width="0.9" />
<rect x="603.80" y="84.00" width="26.70" height="18.60" fill="#ffe600" stroke="#555" stroke-width="0.9" />
<text x="577.60" y="98.10" font-size="12.8" text-anchor="middle" fill="#1a1a1a" >Парная</text>
<text x="617.15" y="98.10" font-size="12.8" text-anchor="middle" fill="#1a1a1a" >6.2</text>
<rect x="645.80" y="84.00" width="65.00" height="18.60" fill="#fff" stroke="#555" stroke-width="0.9" />
<rect x="710.80" y="84.00" width="26.70" height="18.60" fill="#ffe600" stroke="#555" stroke-width="0.9" />
<text x="678.60" y="98.10" font-size="12.8" text-anchor="middle" fill="#1a1a1a" >Душевая</text>
<text x="724.15" y="98.10" font-size="12.8" text-anchor="middle" fill="#1a1a1a" >5.5</text>
<rect x="104.50" y="396.20" width="60.50" height="18.10" fill="#fff" stroke="#555" stroke-width="0.9" />
<rect x="165.00" y="396.20" width="33.00" height="18.10" fill="#ffe600" stroke="#555" stroke-width="0.9" />
<text x="135.05" y="410.05" font-size="12.8" text-anchor="middle" fill="#1a1a1a" >Терраса</text>
<text x="181.50" y="410.05" font-size="12.8" text-anchor="middle" fill="#1a1a1a" >19.3</text>
<rect x="450.80" y="393.00" width="53.70" height="18.30" fill="#fff" stroke="#555" stroke-width="0.9" />
<rect x="504.50" y="393.00" width="24.30" height="18.30" fill="#ffe600" stroke="#555" stroke-width="0.9" />
<text x="477.95" y="406.95" font-size="12.8" text-anchor="middle" fill="#1a1a1a" >Тамбур</text>
<text x="516.65" y="406.95" font-size="12.8" text-anchor="middle" fill="#1a1a1a" >2.7</text>
<rect x="439.50" y="498.80" width="65.00" height="18.70" fill="#fff" stroke="#555" stroke-width="0.9" />
<rect x="504.50" y="498.80" width="25.00" height="18.70" fill="#ffe600" stroke="#555" stroke-width="0.9" />
<text x="472.30" y="512.95" font-size="12.8" text-anchor="middle" fill="#1a1a1a" >Крыльцо</text>
<text x="517.00" y="512.95" font-size="12.8" text-anchor="middle" fill="#1a1a1a" >5.6</text>
<rect x="592.50" y="562.30" width="112.00" height="18.00" fill="#fff" stroke="#555" stroke-width="0.9" />
<rect x="704.50" y="562.30" width="23.50" height="18.00" fill="#ffe600" stroke="#555" stroke-width="0.9" />
<text x="648.80" y="576.10" font-size="12.8" text-anchor="middle" fill="#1a1a1a" >Комната отдыха</text>
<text x="716.25" y="576.10" font-size="12.8" text-anchor="middle" fill="#1a1a1a" >8.2</text>
<rect x="654.80" y="289.60" width="24.70" height="17.70" fill="#ffe600" stroke="#555" stroke-width="0.9" />
<text x="667.20" y="303.10" font-size="12.8" text-anchor="middle" fill="#1a1a1a" >6.3</text>
<rect x="626.20" y="335.00" width="26.30" height="18.00" fill="#ffe600" stroke="#555" stroke-width="0.9" />
<text x="639.40" y="348.80" font-size="12.8" text-anchor="middle" fill="#1a1a1a" >1.5</text>
<text x="43.60" y="59.00" font-size="16.5" text-anchor="start" fill="#1a1a1a" >План первого этажа</text>
<line x1="28.00" y1="112.50" x2="67.50" y2="112.50" stroke="#333" stroke-width="0.9" />
<line x1="38.20" y1="112.50" x2="38.20" y2="532.00" stroke="#333" stroke-width="0.9" />
<line x1="28.20" y1="532.50" x2="516.80" y2="532.50" stroke="#333" stroke-width="0.9" />
<line x1="78.50" y1="386.30" x2="78.50" y2="562.00" stroke="#333" stroke-width="0.9" />
<line x1="78.50" y1="552.20" x2="737.00" y2="552.20" stroke="#444" stroke-width="0.85" />
<line x1="737.00" y1="532.00" x2="737.00" y2="561.30" stroke="#333" stroke-width="0.9" />
<text x="0.00" y="0.00" font-size="13" text-anchor="middle" fill="#1a1a1a" transform="translate(34.3,321.7) rotate(-90)">10350</text>
<text x="408.20" y="569.30" font-size="13" text-anchor="middle" fill="#1a1a1a" >16235</text>
<line x1="316.80" y1="391.50" x2="316.80" y2="404.30" stroke="#222" stroke-width="0.9" />
<path d="M315.00 395.10 L316.80 390.90 L318.60 395.10 Z" fill="#222" stroke="none" stroke-width="0" />
<circle cx="316.80" cy="404.30" r="1.20" fill="#222"/>
<line x1="578.30" y1="525.50" x2="578.30" y2="538.50" stroke="#222" stroke-width="0.9" />
<path d="M576.50 529.10 L578.30 524.90 L580.10 529.10 Z" fill="#222" stroke="none" stroke-width="0" />
<circle cx="578.30" cy="538.50" r="1.20" fill="#222"/>
<g font-size="67" font-weight="normal" letter-spacing="9.8"><text x="219.5" y="323" fill="none" stroke="#808080" stroke-opacity="0.3" stroke-width="2.4" stroke-linejoin="round">DOMAMO</text></g>
<g font-size="22" font-weight="normal" letter-spacing="8.1"><text x="647.9" y="593" fill="none" stroke="#8c8c8c" stroke-opacity="0.75" stroke-width="1.9" stroke-linejoin="round">DOMAMO</text><text x="647.9" y="593" fill="#fff" fill-opacity="0.85">DOMAMO</text></g>
<rect x="0.5" y="0.5" width="799" height="599" fill="none" stroke="#3c3c3c" stroke-width="1"/>
</svg></body></html>
